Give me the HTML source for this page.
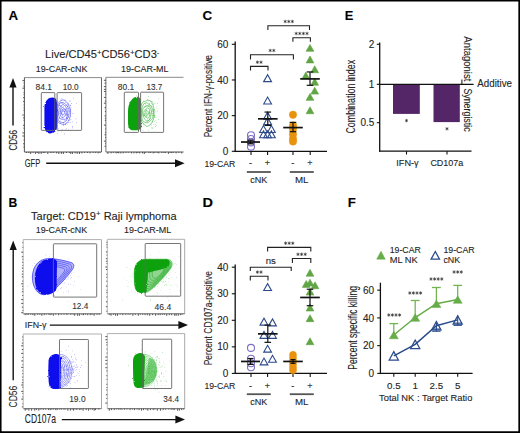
<!DOCTYPE html>
<html><head><meta charset="utf-8"><style>html,body{margin:0;padding:0;background:#fff;}svg{display:block;} text{stroke:#222;stroke-width:0.1px;}</style></head>
<body><svg width="520" height="433" viewBox="0 0 520 433" font-family="Liberation Sans, sans-serif">
<defs><filter id="rough" x="-20%" y="-20%" width="140%" height="140%"><feTurbulence type="fractalNoise" baseFrequency="0.8" numOctaves="2" seed="4"/><feDisplacementMap in="SourceGraphic" scale="2.2" xChannelSelector="R" yChannelSelector="G"/></filter></defs>
<rect x="0" y="0" width="520" height="433" fill="#fff"/>
<path d="M0.7,0 V433 M0,0.7 H520 M519.2,0 V433 M0,432.1 H520" stroke="#000" stroke-width="1.7" fill="none"/>
<text x="8.5" y="19.6" font-size="12.4" fill="#000" font-weight="bold" textLength="9.6" lengthAdjust="spacingAndGlyphs" >A</text>
<text x="8.5" y="207.2" font-size="12.4" fill="#000" font-weight="bold" textLength="8.8" lengthAdjust="spacingAndGlyphs" >B</text>
<text x="202.39999999999998" y="19.6" font-size="12.4" fill="#000" font-weight="bold" textLength="9.7" lengthAdjust="spacingAndGlyphs" >C</text>
<text x="202.39999999999998" y="207.3" font-size="12.4" fill="#000" font-weight="bold" textLength="10.5" lengthAdjust="spacingAndGlyphs" >D</text>
<text x="344.7" y="19.6" font-size="12.4" fill="#000" font-weight="bold" textLength="8.6" lengthAdjust="spacingAndGlyphs" >E</text>
<text x="347.7" y="207.3" font-size="12.4" fill="#000" font-weight="bold" textLength="8.1" lengthAdjust="spacingAndGlyphs" >F</text>
<line x1="235.2" y1="41.50200000000001" x2="235.2" y2="151.9" stroke="#111" stroke-width="1.3" />
<line x1="234.6" y1="151.3" x2="327" y2="151.3" stroke="#111" stroke-width="1.3" />
<line x1="231.8" y1="151.3" x2="235.2" y2="151.3" stroke="#111" stroke-width="1.1" />
<text x="228.4" y="154.9" font-size="10" fill="#222" text-anchor="end">0</text>
<line x1="231.8" y1="115.63400000000001" x2="235.2" y2="115.63400000000001" stroke="#111" stroke-width="1.1" />
<text x="228.4" y="119.23400000000001" font-size="10" fill="#222" text-anchor="end">20</text>
<line x1="231.8" y1="79.968" x2="235.2" y2="79.968" stroke="#111" stroke-width="1.1" />
<text x="228.4" y="83.568" font-size="10" fill="#222" text-anchor="end">40</text>
<line x1="231.8" y1="44.30200000000001" x2="235.2" y2="44.30200000000001" stroke="#111" stroke-width="1.1" />
<text x="228.4" y="47.90200000000001" font-size="10" fill="#222" text-anchor="end">60</text>
<line x1="251" y1="151.3" x2="251" y2="154.9" stroke="#111" stroke-width="1.1" />
<line x1="267.6" y1="151.3" x2="267.6" y2="154.9" stroke="#111" stroke-width="1.1" />
<line x1="293" y1="151.3" x2="293" y2="154.9" stroke="#111" stroke-width="1.1" />
<line x1="310.2" y1="151.3" x2="310.2" y2="154.9" stroke="#111" stroke-width="1.1" />
<text transform="translate(211.8,96.14999999999999) rotate(-90)" x="0" y="0" font-size="11.6" fill="#222" text-anchor="middle" textLength="82.1" lengthAdjust="spacingAndGlyphs">Percent IFN-&#947;-positive</text>
<text x="204.4" y="166.5" font-size="9.4" fill="#222" font-weight="normal" textLength="30.8" lengthAdjust="spacingAndGlyphs" >19-CAR</text>
<text x="250.5" y="166.4" font-size="9" fill="#333" text-anchor="middle" >-</text>
<text x="267.3" y="166.4" font-size="9" fill="#333" text-anchor="middle" >+</text>
<text x="292.8" y="166.4" font-size="9" fill="#333" text-anchor="middle" >-</text>
<text x="310" y="166.4" font-size="9" fill="#333" text-anchor="middle" >+</text>
<line x1="246.8" y1="172" x2="270.8" y2="172" stroke="#555" stroke-width="1.8" />
<line x1="289.8" y1="172" x2="313.8" y2="172" stroke="#555" stroke-width="1.8" />
<text x="250.2" y="183" font-size="9.4" fill="#222" font-weight="normal" textLength="17.1" lengthAdjust="spacingAndGlyphs" >cNK</text>
<text x="295" y="183" font-size="9.4" fill="#222" font-weight="normal" textLength="13.5" lengthAdjust="spacingAndGlyphs" >ML</text>
<circle cx="251" cy="135.2503" r="3.5" fill="none" stroke="#7d6fc2" stroke-width="1.1"/>
<circle cx="251" cy="138.99523000000002" r="3.5" fill="none" stroke="#7d6fc2" stroke-width="1.1"/>
<circle cx="251" cy="142.3835" r="3.5" fill="none" stroke="#7d6fc2" stroke-width="1.1"/>
<circle cx="251" cy="146.66342" r="3.5" fill="none" stroke="#7d6fc2" stroke-width="1.1"/>
<line x1="241.0" y1="142.02684000000002" x2="260.0" y2="142.02684000000002" stroke="#111" stroke-width="1.7" />
<line x1="250.5" y1="140.24354" x2="250.5" y2="143.81014000000002" stroke="#111" stroke-width="1.2" />
<line x1="247.5" y1="140.24354" x2="253.5" y2="140.24354" stroke="#111" stroke-width="1.2" />
<line x1="247.5" y1="143.81014000000002" x2="253.5" y2="143.81014000000002" stroke="#111" stroke-width="1.2" />
<path d="M263.70,81.63 L267.60,74.73 L271.50,81.63 Z" fill="none" stroke="#2d4a8a" stroke-width="1.1" stroke-linejoin="miter"/>
<path d="M263.70,103.93 L267.60,97.03 L271.50,103.93 Z" fill="none" stroke="#2d4a8a" stroke-width="1.1" stroke-linejoin="miter"/>
<path d="M263.70,119.08 L267.60,112.18 L271.50,119.08 Z" fill="none" stroke="#2d4a8a" stroke-width="1.1" stroke-linejoin="miter"/>
<path d="M263.70,124.43 L267.60,117.53 L271.50,124.43 Z" fill="none" stroke="#2d4a8a" stroke-width="1.1" stroke-linejoin="miter"/>
<path d="M259.60,132.46 L263.50,125.56 L267.40,132.46 Z" fill="none" stroke="#2d4a8a" stroke-width="1.1" stroke-linejoin="miter"/>
<path d="M267.50,132.46 L271.40,125.56 L275.30,132.46 Z" fill="none" stroke="#2d4a8a" stroke-width="1.1" stroke-linejoin="miter"/>
<path d="M259.60,137.81 L263.50,130.91 L267.40,137.81 Z" fill="none" stroke="#2d4a8a" stroke-width="1.1" stroke-linejoin="miter"/>
<path d="M267.50,137.81 L271.40,130.91 L275.30,137.81 Z" fill="none" stroke="#2d4a8a" stroke-width="1.1" stroke-linejoin="miter"/>
<path d="M263.70,137.81 L267.60,130.91 L271.50,137.81 Z" fill="none" stroke="#2d4a8a" stroke-width="1.1" stroke-linejoin="miter"/>
<line x1="258.0" y1="118.84394" x2="277.6" y2="118.84394" stroke="#111" stroke-width="1.7" />
<line x1="267.8" y1="112.0674" x2="267.8" y2="125.44215000000001" stroke="#111" stroke-width="1.2" />
<line x1="264.5" y1="112.0674" x2="271.1" y2="112.0674" stroke="#111" stroke-width="1.2" />
<line x1="264.5" y1="125.44215000000001" x2="271.1" y2="125.44215000000001" stroke="#111" stroke-width="1.2" />
<circle cx="293" cy="114.74235000000002" r="3.7" fill="#e8920e" stroke="#e8920e" stroke-width="0.5"/>
<circle cx="293" cy="125.44215000000001" r="3.7" fill="#e8920e" stroke="#e8920e" stroke-width="0.5"/>
<circle cx="293" cy="129.00875000000002" r="3.7" fill="#e8920e" stroke="#e8920e" stroke-width="0.5"/>
<circle cx="293" cy="134.35865" r="3.7" fill="#e8920e" stroke="#e8920e" stroke-width="0.5"/>
<circle cx="293" cy="138.8169" r="3.7" fill="#e8920e" stroke="#e8920e" stroke-width="0.5"/>
<circle cx="293" cy="141.49185" r="3.7" fill="#e8920e" stroke="#e8920e" stroke-width="0.5"/>
<line x1="283.2" y1="127.58211" x2="302.8" y2="127.58211" stroke="#111" stroke-width="1.7" />
<line x1="293" y1="122.41054000000001" x2="293" y2="131.68370000000002" stroke="#111" stroke-width="1.2" />
<line x1="289.7" y1="122.41054000000001" x2="296.3" y2="122.41054000000001" stroke="#111" stroke-width="1.2" />
<line x1="289.7" y1="131.68370000000002" x2="296.3" y2="131.68370000000002" stroke="#111" stroke-width="1.2" />
<path d="M306.10,51.32 L310.00,44.42 L313.90,51.32 Z" fill="#62a544" stroke="#62a544" stroke-width="0.6" stroke-linejoin="miter"/>
<path d="M306.10,62.91 L310.00,56.01 L313.90,62.91 Z" fill="#62a544" stroke="#62a544" stroke-width="0.6" stroke-linejoin="miter"/>
<path d="M310.80,72.72 L314.70,65.82 L318.60,72.72 Z" fill="#62a544" stroke="#62a544" stroke-width="0.6" stroke-linejoin="miter"/>
<path d="M301.90,78.96 L305.80,72.06 L309.70,78.96 Z" fill="#62a544" stroke="#62a544" stroke-width="0.6" stroke-linejoin="miter"/>
<path d="M310.80,85.20 L314.70,78.30 L318.60,85.20 Z" fill="#62a544" stroke="#62a544" stroke-width="0.6" stroke-linejoin="miter"/>
<path d="M310.80,94.12 L314.70,87.22 L318.60,94.12 Z" fill="#62a544" stroke="#62a544" stroke-width="0.6" stroke-linejoin="miter"/>
<path d="M306.10,100.36 L310.00,93.46 L313.90,100.36 Z" fill="#62a544" stroke="#62a544" stroke-width="0.6" stroke-linejoin="miter"/>
<path d="M306.10,113.73 L310.00,106.83 L313.90,113.73 Z" fill="#62a544" stroke="#62a544" stroke-width="0.6" stroke-linejoin="miter"/>
<line x1="300.2" y1="78.89802" x2="319.8" y2="78.89802" stroke="#111" stroke-width="1.7" />
<line x1="310" y1="71.94315" x2="310" y2="85.31790000000001" stroke="#111" stroke-width="1.2" />
<line x1="306.7" y1="71.94315" x2="313.3" y2="71.94315" stroke="#111" stroke-width="1.2" />
<line x1="306.7" y1="85.31790000000001" x2="313.3" y2="85.31790000000001" stroke="#111" stroke-width="1.2" />
<path d="M250.5,70.60000000000001 V66.4 H268 V70.60000000000001" stroke="#222" stroke-width="1.1" fill="none" />
<path d="M257.40,60.50 L257.40,63.90 M258.87,61.35 L255.93,63.05 M258.87,63.05 L255.93,61.35 " stroke="#222" stroke-width="0.65" fill="none"/>
<path d="M261.00,60.50 L261.00,63.90 M262.47,61.35 L259.53,63.05 M262.47,63.05 L259.53,61.35 " stroke="#222" stroke-width="0.65" fill="none"/>
<path d="M250.5,59.5 V54.7 H293.4 V59.5" stroke="#222" stroke-width="1.1" fill="none" />
<path d="M270.20,48.80 L270.20,52.20 M271.67,49.65 L268.73,51.35 M271.67,51.35 L268.73,49.65 " stroke="#222" stroke-width="0.65" fill="none"/>
<path d="M273.80,48.80 L273.80,52.20 M275.27,49.65 L272.33,51.35 M275.27,51.35 L272.33,49.65 " stroke="#222" stroke-width="0.65" fill="none"/>
<path d="M292.9,41.800000000000004 V37.7 H310.4 V41.800000000000004" stroke="#222" stroke-width="1.1" fill="none" />
<path d="M296.20,31.80 L296.20,35.20 M297.67,32.65 L294.73,34.35 M297.67,34.35 L294.73,32.65 " stroke="#222" stroke-width="0.65" fill="none"/>
<path d="M299.80,31.80 L299.80,35.20 M301.27,32.65 L298.33,34.35 M301.27,34.35 L298.33,32.65 " stroke="#222" stroke-width="0.65" fill="none"/>
<path d="M303.40,31.80 L303.40,35.20 M304.87,32.65 L301.93,34.35 M304.87,34.35 L301.93,32.65 " stroke="#222" stroke-width="0.65" fill="none"/>
<path d="M307.00,31.80 L307.00,35.20 M308.47,32.65 L305.53,34.35 M308.47,34.35 L305.53,32.65 " stroke="#222" stroke-width="0.65" fill="none"/>
<path d="M267.9,30.0 V25.7 H309.5 V30.0" stroke="#222" stroke-width="1.1" fill="none" />
<path d="M285.20,19.80 L285.20,23.20 M286.67,20.65 L283.73,22.35 M286.67,22.35 L283.73,20.65 " stroke="#222" stroke-width="0.65" fill="none"/>
<path d="M288.80,19.80 L288.80,23.20 M290.27,20.65 L287.33,22.35 M290.27,22.35 L287.33,20.65 " stroke="#222" stroke-width="0.65" fill="none"/>
<path d="M292.40,19.80 L292.40,23.20 M293.87,20.65 L290.93,22.35 M293.87,22.35 L290.93,20.65 " stroke="#222" stroke-width="0.65" fill="none"/>
<line x1="235.2" y1="264.4" x2="235.2" y2="374.0" stroke="#111" stroke-width="1.3" />
<line x1="234.6" y1="373.4" x2="327" y2="373.4" stroke="#111" stroke-width="1.3" />
<line x1="231.8" y1="373.4" x2="235.2" y2="373.4" stroke="#111" stroke-width="1.1" />
<text x="228.4" y="377.0" font-size="10" fill="#222" text-anchor="end">0</text>
<line x1="231.8" y1="346.84999999999997" x2="235.2" y2="346.84999999999997" stroke="#111" stroke-width="1.1" />
<text x="228.4" y="350.45" font-size="10" fill="#222" text-anchor="end">10</text>
<line x1="231.8" y1="320.29999999999995" x2="235.2" y2="320.29999999999995" stroke="#111" stroke-width="1.1" />
<text x="228.4" y="323.9" font-size="10" fill="#222" text-anchor="end">20</text>
<line x1="231.8" y1="293.75" x2="235.2" y2="293.75" stroke="#111" stroke-width="1.1" />
<text x="228.4" y="297.35" font-size="10" fill="#222" text-anchor="end">30</text>
<line x1="231.8" y1="267.2" x2="235.2" y2="267.2" stroke="#111" stroke-width="1.1" />
<text x="228.4" y="270.8" font-size="10" fill="#222" text-anchor="end">40</text>
<line x1="251" y1="373.4" x2="251" y2="377.0" stroke="#111" stroke-width="1.1" />
<line x1="267.6" y1="373.4" x2="267.6" y2="377.0" stroke="#111" stroke-width="1.1" />
<line x1="293" y1="373.4" x2="293" y2="377.0" stroke="#111" stroke-width="1.1" />
<line x1="310.2" y1="373.4" x2="310.2" y2="377.0" stroke="#111" stroke-width="1.1" />
<text transform="translate(211.8,318.20000000000005) rotate(-90)" x="0" y="0" font-size="11.6" fill="#222" text-anchor="middle" textLength="94.2" lengthAdjust="spacingAndGlyphs">Percent CD107a-positive</text>
<text x="204.4" y="388.7" font-size="9.4" fill="#222" font-weight="normal" textLength="30.8" lengthAdjust="spacingAndGlyphs" >19-CAR</text>
<text x="250.5" y="388.6" font-size="9" fill="#333" text-anchor="middle" >-</text>
<text x="267.3" y="388.6" font-size="9" fill="#333" text-anchor="middle" >+</text>
<text x="292.8" y="388.6" font-size="9" fill="#333" text-anchor="middle" >-</text>
<text x="310" y="388.6" font-size="9" fill="#333" text-anchor="middle" >+</text>
<line x1="246.8" y1="394.2" x2="270.8" y2="394.2" stroke="#555" stroke-width="1.8" />
<line x1="289.8" y1="394.2" x2="313.8" y2="394.2" stroke="#555" stroke-width="1.8" />
<text x="250.2" y="405.2" font-size="9.4" fill="#222" font-weight="normal" textLength="17.1" lengthAdjust="spacingAndGlyphs" >cNK</text>
<text x="295" y="405.2" font-size="9.4" fill="#222" font-weight="normal" textLength="13.5" lengthAdjust="spacingAndGlyphs" >ML</text>
<circle cx="251" cy="347.912" r="3.5" fill="none" stroke="#7d6fc2" stroke-width="1.1"/>
<circle cx="251" cy="358.79749999999996" r="3.5" fill="none" stroke="#7d6fc2" stroke-width="1.1"/>
<circle cx="251" cy="363.311" r="3.5" fill="none" stroke="#7d6fc2" stroke-width="1.1"/>
<circle cx="251" cy="367.2935" r="3.5" fill="none" stroke="#7d6fc2" stroke-width="1.1"/>
<line x1="241.0" y1="361.4525" x2="260.0" y2="361.4525" stroke="#111" stroke-width="1.7" />
<line x1="250.5" y1="358.532" x2="250.5" y2="364.373" stroke="#111" stroke-width="1.2" />
<line x1="247.5" y1="358.532" x2="253.5" y2="358.532" stroke="#111" stroke-width="1.2" />
<line x1="247.5" y1="364.373" x2="253.5" y2="364.373" stroke="#111" stroke-width="1.2" />
<path d="M263.70,290.56 L267.60,283.66 L271.50,290.56 Z" fill="none" stroke="#2d4a8a" stroke-width="1.1" stroke-linejoin="miter"/>
<path d="M260.10,325.08 L264.00,318.18 L267.90,325.08 Z" fill="none" stroke="#2d4a8a" stroke-width="1.1" stroke-linejoin="miter"/>
<path d="M268.60,325.87 L272.50,318.97 L276.40,325.87 Z" fill="none" stroke="#2d4a8a" stroke-width="1.1" stroke-linejoin="miter"/>
<path d="M260.10,338.35 L264.00,331.45 L267.90,338.35 Z" fill="none" stroke="#2d4a8a" stroke-width="1.1" stroke-linejoin="miter"/>
<path d="M268.60,338.35 L272.50,331.45 L276.40,338.35 Z" fill="none" stroke="#2d4a8a" stroke-width="1.1" stroke-linejoin="miter"/>
<path d="M263.70,352.16 L267.60,345.26 L271.50,352.16 Z" fill="none" stroke="#2d4a8a" stroke-width="1.1" stroke-linejoin="miter"/>
<path d="M268.60,362.25 L272.50,355.35 L276.40,362.25 Z" fill="none" stroke="#2d4a8a" stroke-width="1.1" stroke-linejoin="miter"/>
<path d="M260.10,364.90 L264.00,358.00 L267.90,364.90 Z" fill="none" stroke="#2d4a8a" stroke-width="1.1" stroke-linejoin="miter"/>
<line x1="258.0" y1="333.84049999999996" x2="277.6" y2="333.84049999999996" stroke="#111" stroke-width="1.7" />
<line x1="267.8" y1="325.07899999999995" x2="267.8" y2="342.3365" stroke="#111" stroke-width="1.2" />
<line x1="264.5" y1="325.07899999999995" x2="271.1" y2="325.07899999999995" stroke="#111" stroke-width="1.2" />
<line x1="264.5" y1="342.3365" x2="271.1" y2="342.3365" stroke="#111" stroke-width="1.2" />
<circle cx="293" cy="354.815" r="3.5" fill="#e8920e" stroke="#e8920e" stroke-width="0.5"/>
<circle cx="293" cy="358.001" r="3.5" fill="#e8920e" stroke="#e8920e" stroke-width="0.5"/>
<circle cx="293" cy="361.18699999999995" r="3.5" fill="#e8920e" stroke="#e8920e" stroke-width="0.5"/>
<circle cx="293" cy="364.373" r="3.5" fill="#e8920e" stroke="#e8920e" stroke-width="0.5"/>
<circle cx="293" cy="367.55899999999997" r="3.5" fill="#e8920e" stroke="#e8920e" stroke-width="0.5"/>
<circle cx="293" cy="370.214" r="3.5" fill="#e8920e" stroke="#e8920e" stroke-width="0.5"/>
<line x1="283.2" y1="361.4525" x2="302.8" y2="361.4525" stroke="#111" stroke-width="1.7" />
<line x1="293" y1="359.594" x2="293" y2="363.311" stroke="#111" stroke-width="1.2" />
<line x1="290.5" y1="359.594" x2="295.5" y2="359.594" stroke="#111" stroke-width="1.2" />
<line x1="290.5" y1="363.311" x2="295.5" y2="363.311" stroke="#111" stroke-width="1.2" />
<path d="M306.10,276.23 L310.00,269.33 L313.90,276.23 Z" fill="#62a544" stroke="#62a544" stroke-width="0.6" stroke-linejoin="miter"/>
<path d="M302.30,287.38 L306.20,280.48 L310.10,287.38 Z" fill="#62a544" stroke="#62a544" stroke-width="0.6" stroke-linejoin="miter"/>
<path d="M306.10,286.05 L310.00,279.15 L313.90,286.05 Z" fill="#62a544" stroke="#62a544" stroke-width="0.6" stroke-linejoin="miter"/>
<path d="M311.10,288.70 L315.00,281.80 L318.90,288.70 Z" fill="#62a544" stroke="#62a544" stroke-width="0.6" stroke-linejoin="miter"/>
<path d="M306.10,295.08 L310.00,288.18 L313.90,295.08 Z" fill="#62a544" stroke="#62a544" stroke-width="0.6" stroke-linejoin="miter"/>
<path d="M306.10,311.01 L310.00,304.11 L313.90,311.01 Z" fill="#62a544" stroke="#62a544" stroke-width="0.6" stroke-linejoin="miter"/>
<path d="M306.10,321.63 L310.00,314.73 L313.90,321.63 Z" fill="#62a544" stroke="#62a544" stroke-width="0.6" stroke-linejoin="miter"/>
<path d="M306.10,344.72 L310.00,337.82 L313.90,344.72 Z" fill="#62a544" stroke="#62a544" stroke-width="0.6" stroke-linejoin="miter"/>
<line x1="300.2" y1="297.467" x2="319.8" y2="297.467" stroke="#111" stroke-width="1.7" />
<line x1="310" y1="289.2365" x2="310" y2="305.6975" stroke="#111" stroke-width="1.2" />
<line x1="306.7" y1="289.2365" x2="313.3" y2="289.2365" stroke="#111" stroke-width="1.2" />
<line x1="306.7" y1="305.6975" x2="313.3" y2="305.6975" stroke="#111" stroke-width="1.2" />
<path d="M250.3,280.40000000000003 V276.3 H268 V280.40000000000003" stroke="#222" stroke-width="1.1" fill="none" />
<path d="M257.40,270.40 L257.40,273.80 M258.87,271.25 L255.93,272.95 M258.87,272.95 L255.93,271.25 " stroke="#222" stroke-width="0.65" fill="none"/>
<path d="M261.00,270.40 L261.00,273.80 M262.47,271.25 L259.53,272.95 M262.47,272.95 L259.53,271.25 " stroke="#222" stroke-width="0.65" fill="none"/>
<path d="M250.3,271.0 V267.2 H291.2 V271.0" stroke="#222" stroke-width="1.1" fill="none" />
<text x="270.8" y="264.2" font-size="9.6" fill="#222" text-anchor="middle" >ns</text>
<path d="M292.4,263.0 V258.5 H310.8 V263.0" stroke="#222" stroke-width="1.1" fill="none" />
<path d="M298.00,252.60 L298.00,256.00 M299.47,253.45 L296.53,255.15 M299.47,255.15 L296.53,253.45 " stroke="#222" stroke-width="0.65" fill="none"/>
<path d="M301.60,252.60 L301.60,256.00 M303.07,253.45 L300.13,255.15 M303.07,255.15 L300.13,253.45 " stroke="#222" stroke-width="0.65" fill="none"/>
<path d="M305.20,252.60 L305.20,256.00 M306.67,253.45 L303.73,255.15 M306.67,255.15 L303.73,253.45 " stroke="#222" stroke-width="0.65" fill="none"/>
<path d="M267.6,251.5 V247.4 H310.8 V251.5" stroke="#222" stroke-width="1.1" fill="none" />
<path d="M285.60,241.50 L285.60,244.90 M287.07,242.35 L284.13,244.05 M287.07,244.05 L284.13,242.35 " stroke="#222" stroke-width="0.65" fill="none"/>
<path d="M289.20,241.50 L289.20,244.90 M290.67,242.35 L287.73,244.05 M290.67,244.05 L287.73,242.35 " stroke="#222" stroke-width="0.65" fill="none"/>
<path d="M292.80,241.50 L292.80,244.90 M294.27,242.35 L291.33,244.05 M294.27,244.05 L291.33,242.35 " stroke="#222" stroke-width="0.65" fill="none"/>
<rect x="393" y="84.3" width="26.8" height="29.6" fill="#542567"/>
<rect x="433.5" y="84.3" width="26.3" height="37.8" fill="#542567"/>
<line x1="379.7" y1="42.5" x2="379.7" y2="151.8" stroke="#111" stroke-width="1.3" />
<line x1="379.1" y1="151.2" x2="471.5" y2="151.2" stroke="#111" stroke-width="1.3" />
<line x1="379.7" y1="84.3" x2="473.6" y2="84.3" stroke="#111" stroke-width="1.3" />
<line x1="461.9" y1="79.5" x2="461.9" y2="84.3" stroke="#111" stroke-width="1" />
<line x1="376.8" y1="44.3" x2="379.7" y2="44.3" stroke="#111" stroke-width="1.1" />
<text x="374.3" y="47.9" font-size="10" fill="#222" text-anchor="end">2</text>
<line x1="376.8" y1="84.3" x2="379.7" y2="84.3" stroke="#111" stroke-width="1.1" />
<text x="374.3" y="87.89999999999999" font-size="10" fill="#222" text-anchor="end">1</text>
<line x1="376.8" y1="122.7" x2="379.7" y2="122.7" stroke="#111" stroke-width="1.1" />
<text x="374.3" y="126.3" font-size="10" fill="#222" text-anchor="end">0.5</text>
<line x1="406.5" y1="151.2" x2="406.5" y2="154.5" stroke="#111" stroke-width="1.1" />
<line x1="447" y1="151.2" x2="447" y2="154.5" stroke="#111" stroke-width="1.1" />
<path d="M406.50,118.90 L406.50,122.30 M407.97,119.75 L405.03,121.45 M407.97,121.45 L405.03,119.75 " stroke="#222" stroke-width="0.65" fill="none"/>
<path d="M447.00,127.10 L447.00,130.50 M448.47,127.95 L445.53,129.65 M448.47,129.65 L445.53,127.95 " stroke="#222" stroke-width="0.65" fill="none"/>
<text x="396.3" y="166.3" font-size="9.4" fill="#222" font-weight="normal" textLength="22.4" lengthAdjust="spacingAndGlyphs" >IFN-&#947;</text>
<text x="430.4" y="166.3" font-size="9.4" fill="#222" font-weight="normal" textLength="32.9" lengthAdjust="spacingAndGlyphs" >CD107a</text>
<text transform="translate(354.6,96.75) rotate(-90)" x="0" y="0" font-size="12" fill="#222" text-anchor="middle" textLength="73.7" lengthAdjust="spacingAndGlyphs">Combination index</text>
<text transform="translate(464.3,58.85) rotate(90)" x="0" y="0" font-size="10.8" fill="#222" text-anchor="middle" textLength="45.1" lengthAdjust="spacingAndGlyphs">Antagonist</text>
<text transform="translate(464.3,110.0) rotate(90)" x="0" y="0" font-size="10.8" fill="#222" text-anchor="middle" textLength="43.2" lengthAdjust="spacingAndGlyphs">Synergistic</text>
<text x="477.3" y="87.3" font-size="10.4" fill="#222" font-weight="normal" textLength="34.7" lengthAdjust="spacingAndGlyphs" >Additive</text>
<line x1="380.4" y1="282.7" x2="380.4" y2="373.9" stroke="#111" stroke-width="1.3" />
<line x1="379.8" y1="373.3" x2="472.6" y2="373.3" stroke="#111" stroke-width="1.3" />
<line x1="377.2" y1="373.4" x2="380.4" y2="373.4" stroke="#111" stroke-width="1.1" />
<text x="374" y="377.0" font-size="10" fill="#222" text-anchor="end">0</text>
<line x1="377.2" y1="345.65" x2="380.4" y2="345.65" stroke="#111" stroke-width="1.1" />
<text x="374" y="349.25" font-size="10" fill="#222" text-anchor="end">20</text>
<line x1="377.2" y1="317.9" x2="380.4" y2="317.9" stroke="#111" stroke-width="1.1" />
<text x="374" y="321.5" font-size="10" fill="#222" text-anchor="end">40</text>
<line x1="377.2" y1="290.15" x2="380.4" y2="290.15" stroke="#111" stroke-width="1.1" />
<text x="374" y="293.75" font-size="10" fill="#222" text-anchor="end">60</text>
<line x1="393.8" y1="373.3" x2="393.8" y2="376.8" stroke="#111" stroke-width="1.1" />
<text x="393.8" y="389" font-size="9.8" fill="#222" text-anchor="middle" >0.5</text>
<line x1="415.2" y1="373.3" x2="415.2" y2="376.8" stroke="#111" stroke-width="1.1" />
<text x="415.2" y="389" font-size="9.8" fill="#222" text-anchor="middle" >1</text>
<line x1="436.4" y1="373.3" x2="436.4" y2="376.8" stroke="#111" stroke-width="1.1" />
<text x="436.4" y="389" font-size="9.8" fill="#222" text-anchor="middle" >2.5</text>
<line x1="457.7" y1="373.3" x2="457.7" y2="376.8" stroke="#111" stroke-width="1.1" />
<text x="457.7" y="389" font-size="9.8" fill="#222" text-anchor="middle" >5</text>
<text x="379" y="401" font-size="9.8" fill="#222" font-weight="normal" textLength="93.4" lengthAdjust="spacingAndGlyphs" >Total NK : Target Ratio</text>
<text transform="translate(356.6,327.85) rotate(-90)" x="0" y="0" font-size="12" fill="#222" text-anchor="middle" textLength="83.9" lengthAdjust="spacingAndGlyphs">Percent specific killing</text>
<line x1="393.8" y1="335.0" x2="393.8" y2="323.6" stroke="#72b450" stroke-width="1.25" />
<line x1="389.40000000000003" y1="323.6" x2="398.2" y2="323.6" stroke="#72b450" stroke-width="1.3" />
<line x1="415.2" y1="317.5" x2="415.2" y2="300.5" stroke="#72b450" stroke-width="1.25" />
<line x1="410.8" y1="300.5" x2="419.59999999999997" y2="300.5" stroke="#72b450" stroke-width="1.3" />
<line x1="436.4" y1="303.7" x2="436.4" y2="287.5" stroke="#72b450" stroke-width="1.25" />
<line x1="432.0" y1="287.5" x2="440.79999999999995" y2="287.5" stroke="#72b450" stroke-width="1.3" />
<line x1="457.7" y1="299.5" x2="457.7" y2="285.4" stroke="#72b450" stroke-width="1.25" />
<line x1="453.3" y1="285.4" x2="462.09999999999997" y2="285.4" stroke="#72b450" stroke-width="1.3" />
<path d="M393.8,335.0 L415.2,317.5 L436.4,303.7 L457.7,299.5" stroke="#66ad48" stroke-width="1.5" fill="none" />
<path d="M389.30,338.80 L393.80,331.20 L398.30,338.80 Z" fill="#66ad48" stroke="#66ad48" stroke-width="0.5" stroke-linejoin="miter"/>
<path d="M410.70,321.30 L415.20,313.70 L419.70,321.30 Z" fill="#66ad48" stroke="#66ad48" stroke-width="0.5" stroke-linejoin="miter"/>
<path d="M431.90,307.50 L436.40,299.90 L440.90,307.50 Z" fill="#66ad48" stroke="#66ad48" stroke-width="0.5" stroke-linejoin="miter"/>
<path d="M453.20,303.30 L457.70,295.70 L462.20,303.30 Z" fill="#66ad48" stroke="#66ad48" stroke-width="0.5" stroke-linejoin="miter"/>
<line x1="436.4" y1="321.5" x2="436.4" y2="331.2" stroke="#2b4b8c" stroke-width="1.1" />
<line x1="432.2" y1="331.2" x2="440.59999999999997" y2="331.2" stroke="#2b4b8c" stroke-width="1.2" />
<line x1="432.2" y1="329.0" x2="440.59999999999997" y2="329.0" stroke="#2b4b8c" stroke-width="1.0" />
<line x1="457.7" y1="315.5" x2="457.7" y2="325.3" stroke="#2b4b8c" stroke-width="1.1" />
<line x1="453.5" y1="325.3" x2="461.9" y2="325.3" stroke="#2b4b8c" stroke-width="1.2" />
<line x1="453.5" y1="323.1" x2="461.9" y2="323.1" stroke="#2b4b8c" stroke-width="1.0" />
<path d="M393.8,355.8 L415.2,344.3 L436.4,325.7 L457.7,319.9" stroke="#2b4b8c" stroke-width="1.5" fill="none" />
<path d="M389.20,360.00 L393.80,351.60 L398.40,360.00 Z" fill="none" stroke="#2b4b8c" stroke-width="1.25" stroke-linejoin="miter"/>
<path d="M410.60,348.50 L415.20,340.10 L419.80,348.50 Z" fill="none" stroke="#2b4b8c" stroke-width="1.25" stroke-linejoin="miter"/>
<path d="M431.80,329.90 L436.40,321.50 L441.00,329.90 Z" fill="none" stroke="#2b4b8c" stroke-width="1.25" stroke-linejoin="miter"/>
<path d="M453.10,324.10 L457.70,315.70 L462.30,324.10 Z" fill="none" stroke="#2b4b8c" stroke-width="1.25" stroke-linejoin="miter"/>
<path d="M388.80,313.30 L388.80,316.70 M390.27,314.15 L387.33,315.85 M390.27,315.85 L387.33,314.15 " stroke="#222" stroke-width="0.65" fill="none"/>
<path d="M392.40,313.30 L392.40,316.70 M393.87,314.15 L390.93,315.85 M393.87,315.85 L390.93,314.15 " stroke="#222" stroke-width="0.65" fill="none"/>
<path d="M396.00,313.30 L396.00,316.70 M397.47,314.15 L394.53,315.85 M397.47,315.85 L394.53,314.15 " stroke="#222" stroke-width="0.65" fill="none"/>
<path d="M399.60,313.30 L399.60,316.70 M401.07,314.15 L398.13,315.85 M401.07,315.85 L398.13,314.15 " stroke="#222" stroke-width="0.65" fill="none"/>
<path d="M409.80,291.30 L409.80,294.70 M411.27,292.15 L408.33,293.85 M411.27,293.85 L408.33,292.15 " stroke="#222" stroke-width="0.65" fill="none"/>
<path d="M413.40,291.30 L413.40,294.70 M414.87,292.15 L411.93,293.85 M414.87,293.85 L411.93,292.15 " stroke="#222" stroke-width="0.65" fill="none"/>
<path d="M417.00,291.30 L417.00,294.70 M418.47,292.15 L415.53,293.85 M418.47,293.85 L415.53,292.15 " stroke="#222" stroke-width="0.65" fill="none"/>
<path d="M420.60,291.30 L420.60,294.70 M422.07,292.15 L419.13,293.85 M422.07,293.85 L419.13,292.15 " stroke="#222" stroke-width="0.65" fill="none"/>
<path d="M431.00,277.30 L431.00,280.70 M432.47,278.15 L429.53,279.85 M432.47,279.85 L429.53,278.15 " stroke="#222" stroke-width="0.65" fill="none"/>
<path d="M434.60,277.30 L434.60,280.70 M436.07,278.15 L433.13,279.85 M436.07,279.85 L433.13,278.15 " stroke="#222" stroke-width="0.65" fill="none"/>
<path d="M438.20,277.30 L438.20,280.70 M439.67,278.15 L436.73,279.85 M439.67,279.85 L436.73,278.15 " stroke="#222" stroke-width="0.65" fill="none"/>
<path d="M441.80,277.30 L441.80,280.70 M443.27,278.15 L440.33,279.85 M443.27,279.85 L440.33,278.15 " stroke="#222" stroke-width="0.65" fill="none"/>
<path d="M454.10,270.30 L454.10,273.70 M455.57,271.15 L452.63,272.85 M455.57,272.85 L452.63,271.15 " stroke="#222" stroke-width="0.65" fill="none"/>
<path d="M457.70,270.30 L457.70,273.70 M459.17,271.15 L456.23,272.85 M459.17,272.85 L456.23,271.15 " stroke="#222" stroke-width="0.65" fill="none"/>
<path d="M461.30,270.30 L461.30,273.70 M462.77,271.15 L459.83,272.85 M462.77,272.85 L459.83,271.15 " stroke="#222" stroke-width="0.65" fill="none"/>
<path d="M376.70,259.20 L381.00,251.20 L385.30,259.20 Z" fill="#66ad48" stroke="#66ad48" stroke-width="0.5" stroke-linejoin="miter"/>
<text x="389.7" y="252.6" font-size="9.4" fill="#222" font-weight="normal" textLength="31.1" lengthAdjust="spacingAndGlyphs" >19-CAR</text>
<text x="389.7" y="263.3" font-size="9.4" fill="#222" font-weight="normal" textLength="28.1" lengthAdjust="spacingAndGlyphs" >ML NK</text>
<path d="M431.10,259.10 L435.30,251.50 L439.50,259.10 Z" fill="#fff" stroke="#2b4b8c" stroke-width="1.25" stroke-linejoin="miter"/>
<text x="443.4" y="252.6" font-size="9.4" fill="#222" font-weight="normal" textLength="31.3" lengthAdjust="spacingAndGlyphs" >19-CAR</text>
<text x="443.4" y="263.4" font-size="9.4" fill="#222" font-weight="normal" textLength="16.8" lengthAdjust="spacingAndGlyphs" >cNK</text>
<text x="45" y="58.2" font-size="11.2" fill="#222" textLength="114.5" lengthAdjust="spacingAndGlyphs">Live/CD45<tspan dy="-3.6" font-size="8">+</tspan><tspan dy="3.6">CD56</tspan><tspan dy="-3.6" font-size="8">+</tspan><tspan dy="3.6">CD3</tspan><tspan dy="-3.6" font-size="8">-</tspan></text>
<text x="35.8" y="71.9" font-size="9.2" fill="#222" font-weight="normal" textLength="51.6" lengthAdjust="spacingAndGlyphs" >19-CAR-cNK</text>
<text x="121" y="71.7" font-size="9.2" fill="#222" font-weight="normal" textLength="47.6" lengthAdjust="spacingAndGlyphs" >19-CAR-ML</text>
<line x1="24.4" y1="77.6" x2="101.5" y2="77.6" stroke="#8a8a8a" stroke-width="1.0" />
<line x1="101.5" y1="77.6" x2="101.5" y2="152" stroke="#666" stroke-width="1.0" />
<line x1="24.4" y1="152" x2="101.5" y2="152" stroke="#555" stroke-width="1.0" />
<line x1="24.4" y1="77.6" x2="24.4" y2="152" stroke="#555" stroke-width="1.0" />
<path d="M26.4,152 v1.0M28.8,152 v1.0M30.7,152 v2.0M33.2,152 v0.8M35.6,152 v2.0M37.3,152 v1.0M38.9,152 v2.0M41.2,152 v2.0M43.2,152 v1.0M44.8,152 v1.0M47.8,152 v2.0M50.4,152 v0.8M52.0,152 v0.8M53.8,152 v0.8M56.6,152 v1.4M58.8,152 v2.0M61.4,152 v2.0M63.4,152 v2.0M66.5,152 v1.0M69.5,152 v0.8M70.7,152 v2.0M72.4,152 v2.0M75.1,152 v1.4M77.2,152 v2.0M79.5,152 v2.0M81.9,152 v1.4M84.5,152 v0.8M87.4,152 v1.0M90.0,152 v1.4M93.1,152 v0.8M95.7,152 v1.0M98.2,152 v1.4M100.0,152 v0.8M24.4,80.6 h-2.0M24.4,82.9 h-0.8M24.4,86.1 h-1.0M24.4,88.2 h-2.0M24.4,92.5 h-0.8M24.4,94.6 h-0.8M24.4,97.7 h-1.4M24.4,101.4 h-1.4M24.4,104.9 h-0.8M24.4,107.8 h-0.8M24.4,110.2 h-0.8M24.4,115.0 h-2.0M24.4,117.9 h-1.4M24.4,120.3 h-0.8M24.4,125.3 h-1.4M24.4,128.2 h-1.0M24.4,132.9 h-2.0M24.4,136.0 h-2.0M24.4,140.0 h-0.8M24.4,143.8 h-1.4M24.4,147.1 h-1.0" stroke="#333" stroke-width="0.8" fill="none"/>
<line x1="105.9" y1="77.3" x2="183.5" y2="77.3" stroke="#8a8a8a" stroke-width="1.0" />
<line x1="105.9" y1="152" x2="183.5" y2="152" stroke="#555" stroke-width="1.0" />
<line x1="105.9" y1="77.3" x2="105.9" y2="152" stroke="#777" stroke-width="1.0" />
<path d="M107.9,152 v2.0M111.1,152 v1.4M113.4,152 v0.8M116.1,152 v1.4M117.4,152 v1.0M118.7,152 v1.4M120.8,152 v1.4M123.2,152 v1.4M125.9,152 v0.8M128.3,152 v0.8M131.4,152 v1.4M133.9,152 v1.4M136.3,152 v1.4M137.8,152 v1.0M139.6,152 v1.4M142.5,152 v1.4M144.3,152 v2.0M145.7,152 v0.8M148.9,152 v1.0M150.7,152 v1.0M153.2,152 v1.4M154.9,152 v1.0M157.4,152 v0.8M158.8,152 v1.4M161.9,152 v1.0M164.0,152 v1.0M165.4,152 v1.0M168.4,152 v2.0M170.1,152 v0.8M171.4,152 v1.0M173.2,152 v1.0M176.1,152 v1.4M178.9,152 v0.8M181.7,152 v1.4M105.9,80.3 h-2.0M105.9,83.2 h-1.4M105.9,86.6 h-2.0M105.9,89.4 h-2.0M105.9,91.5 h-2.0M105.9,94.0 h-0.8M105.9,97.4 h-2.0M105.9,101.1 h-1.0M105.9,103.2 h-2.0M105.9,107.7 h-1.4M105.9,111.4 h-1.0M105.9,115.9 h-1.4M105.9,118.3 h-1.0M105.9,120.4 h-1.0M105.9,125.1 h-2.0M105.9,128.9 h-0.8M105.9,132.3 h-0.8M105.9,134.8 h-1.4M105.9,137.5 h-0.8M105.9,141.1 h-2.0M105.9,143.3 h-0.8M105.9,146.3 h-1.4" stroke="#333" stroke-width="0.8" fill="none"/>
<text x="35.6" y="89.9" font-size="9.0" fill="#333" font-weight="normal" textLength="16.5" lengthAdjust="spacingAndGlyphs" >84.1</text>
<text x="62.7" y="89.9" font-size="9.0" fill="#333" font-weight="normal" textLength="15.9" lengthAdjust="spacingAndGlyphs" >10.0</text>
<text x="117.8" y="89.9" font-size="9.0" fill="#333" font-weight="normal" textLength="16.4" lengthAdjust="spacingAndGlyphs" >80.1</text>
<text x="146.4" y="89.9" font-size="9.0" fill="#333" font-weight="normal" textLength="15.8" lengthAdjust="spacingAndGlyphs" >13.7</text>
<path d="M52.4,108.8h0.6v0.6h-0.6zM66.9,115.4h0.6v0.6h-0.6zM72.0,126.1h0.6v0.6h-0.6zM66.3,117.5h0.6v0.6h-0.6zM61.1,131.7h0.6v0.6h-0.6zM72.3,127.6h0.6v0.6h-0.6zM55.2,113.9h0.6v0.6h-0.6zM54.8,121.9h0.6v0.6h-0.6zM63.1,125.5h0.6v0.6h-0.6zM61.1,112.6h0.6v0.6h-0.6zM58.1,127.9h0.6v0.6h-0.6zM69.5,100.8h0.6v0.6h-0.6zM64.8,113.8h0.6v0.6h-0.6zM61.5,113.3h0.6v0.6h-0.6zM61.3,102.5h0.6v0.6h-0.6zM59.5,113.3h0.6v0.6h-0.6zM68.3,116.9h0.6v0.6h-0.6zM59.1,117.9h0.6v0.6h-0.6zM60.2,115.0h0.6v0.6h-0.6zM72.6,113.3h0.6v0.6h-0.6zM65.2,101.8h0.6v0.6h-0.6zM69.4,115.7h0.6v0.6h-0.6zM58.6,103.9h0.6v0.6h-0.6zM61.8,111.0h0.6v0.6h-0.6zM64.5,111.1h0.6v0.6h-0.6zM55.9,102.1h0.6v0.6h-0.6zM57.2,133.2h0.6v0.6h-0.6zM62.0,113.8h0.6v0.6h-0.6zM63.9,120.0h0.6v0.6h-0.6zM53.9,104.3h0.6v0.6h-0.6zM63.5,117.7h0.6v0.6h-0.6zM68.2,114.4h0.6v0.6h-0.6zM70.5,110.8h0.6v0.6h-0.6zM65.1,109.7h0.6v0.6h-0.6zM57.3,111.4h0.6v0.6h-0.6zM67.1,118.0h0.6v0.6h-0.6zM52.3,109.7h0.6v0.6h-0.6zM61.6,103.0h0.6v0.6h-0.6zM63.5,121.9h0.6v0.6h-0.6zM55.4,111.0h0.6v0.6h-0.6zM59.9,105.6h0.6v0.6h-0.6zM65.3,105.5h0.6v0.6h-0.6zM63.8,111.4h0.6v0.6h-0.6zM68.2,119.8h0.6v0.6h-0.6zM61.4,106.1h0.6v0.6h-0.6zM62.2,116.7h0.6v0.6h-0.6zM70.7,112.7h0.6v0.6h-0.6zM58.6,111.8h0.6v0.6h-0.6zM60.4,111.6h0.6v0.6h-0.6zM55.8,109.3h0.6v0.6h-0.6zM65.6,108.8h0.6v0.6h-0.6zM59.0,105.1h0.6v0.6h-0.6zM62.9,125.2h0.6v0.6h-0.6zM70.1,108.7h0.6v0.6h-0.6zM68.7,111.2h0.6v0.6h-0.6zM64.3,133.6h0.6v0.6h-0.6zM56.3,118.9h0.6v0.6h-0.6zM51.1,103.2h0.6v0.6h-0.6zM61.6,108.2h0.6v0.6h-0.6zM52.8,124.0h0.6v0.6h-0.6zM66.7,122.0h0.6v0.6h-0.6zM53.8,114.4h0.6v0.6h-0.6zM70.6,109.4h0.6v0.6h-0.6zM65.0,109.2h0.6v0.6h-0.6zM63.0,107.9h0.6v0.6h-0.6zM49.0,110.9h0.6v0.6h-0.6zM67.4,104.0h0.6v0.6h-0.6zM64.7,99.8h0.6v0.6h-0.6zM68.0,103.4h0.6v0.6h-0.6zM48.2,99.9h0.6v0.6h-0.6zM66.9,108.1h0.6v0.6h-0.6zM61.8,129.1h0.6v0.6h-0.6zM65.4,124.1h0.6v0.6h-0.6zM63.5,123.3h0.6v0.6h-0.6zM67.1,105.9h0.6v0.6h-0.6zM60.0,99.8h0.6v0.6h-0.6zM65.2,124.4h0.6v0.6h-0.6zM70.1,105.4h0.6v0.6h-0.6zM76.1,122.6h0.6v0.6h-0.6zM75.7,118.6h0.6v0.6h-0.6zM69.7,104.8h0.6v0.6h-0.6zM63.4,109.6h0.6v0.6h-0.6zM63.9,119.7h0.6v0.6h-0.6zM71.0,103.1h0.6v0.6h-0.6zM68.4,122.5h0.6v0.6h-0.6zM62.3,110.8h0.6v0.6h-0.6zM66.3,110.8h0.6v0.6h-0.6zM66.7,114.6h0.6v0.6h-0.6zM72.0,121.7h0.6v0.6h-0.6zM66.5,117.8h0.6v0.6h-0.6zM64.4,111.7h0.6v0.6h-0.6zM53.7,117.3h0.6v0.6h-0.6zM62.2,114.9h0.6v0.6h-0.6zM60.1,120.7h0.6v0.6h-0.6zM70.6,119.1h0.6v0.6h-0.6zM62.7,102.6h0.6v0.6h-0.6zM66.7,118.6h0.6v0.6h-0.6zM64.8,110.6h0.6v0.6h-0.6zM57.1,117.0h0.6v0.6h-0.6zM58.5,111.8h0.6v0.6h-0.6zM53.8,110.6h0.6v0.6h-0.6zM60.5,105.2h0.6v0.6h-0.6zM54.6,117.1h0.6v0.6h-0.6zM64.2,109.1h0.6v0.6h-0.6zM68.1,110.2h0.6v0.6h-0.6zM56.3,108.6h0.6v0.6h-0.6zM59.4,103.7h0.6v0.6h-0.6zM67.7,115.7h0.6v0.6h-0.6zM61.6,98.3h0.6v0.6h-0.6zM57.1,101.4h0.6v0.6h-0.6zM66.4,120.0h0.6v0.6h-0.6zM68.8,108.2h0.6v0.6h-0.6zM69.0,120.2h0.6v0.6h-0.6zM70.6,106.8h0.6v0.6h-0.6zM59.3,105.4h0.6v0.6h-0.6zM61.8,118.5h0.6v0.6h-0.6zM52.6,114.7h0.6v0.6h-0.6zM62.2,108.9h0.6v0.6h-0.6zM66.2,123.4h0.6v0.6h-0.6zM57.7,108.9h0.6v0.6h-0.6zM66.9,117.2h0.6v0.6h-0.6zM66.1,114.6h0.6v0.6h-0.6zM58.3,114.0h0.6v0.6h-0.6zM60.6,102.8h0.6v0.6h-0.6zM73.2,97.7h0.6v0.6h-0.6zM52.7,118.2h0.6v0.6h-0.6zM69.4,117.5h0.6v0.6h-0.6zM66.4,112.9h0.6v0.6h-0.6zM55.3,105.7h0.6v0.6h-0.6zM50.9,105.2h0.6v0.6h-0.6zM70.1,122.0h0.6v0.6h-0.6zM54.8,107.5h0.6v0.6h-0.6zM49.7,129.3h0.6v0.6h-0.6zM68.7,121.9h0.6v0.6h-0.6zM69.8,100.6h0.6v0.6h-0.6zM59.5,111.5h0.6v0.6h-0.6zM68.2,129.4h0.6v0.6h-0.6zM59.6,118.5h0.6v0.6h-0.6zM66.6,104.8h0.6v0.6h-0.6zM53.8,122.1h0.6v0.6h-0.6zM57.7,130.9h0.6v0.6h-0.6zM60.4,122.8h0.6v0.6h-0.6zM53.8,110.4h0.6v0.6h-0.6zM70.1,104.9h0.6v0.6h-0.6zM66.8,114.1h0.6v0.6h-0.6zM61.1,109.8h0.6v0.6h-0.6zM63.2,106.4h0.6v0.6h-0.6zM66.9,124.2h0.6v0.6h-0.6zM66.3,127.9h0.6v0.6h-0.6zM65.6,129.0h0.6v0.6h-0.6zM76.0,103.2h0.6v0.6h-0.6z" fill="#2a2af0" opacity="0.7"/>
<path d="M64.7,112.5 L64.8,113.3 L64.5,113.9 L64.1,114.3 L63.6,114.3 L63.3,114.5 L63.0,114.5 L62.6,114.9 L62.2,114.9 L61.7,114.6 L61.6,113.9 L61.5,113.1 L61.7,112.5 L61.9,112.0 L61.9,111.4 L62.0,110.8 L62.1,110.0 L62.5,109.6 L63.0,109.7 L63.4,110.1 L63.7,110.5 L63.9,111.0 L64.1,111.5 L64.4,111.9 Z" fill="none" stroke="#2222f0" stroke-width="0.55" opacity="0.9" stroke-linejoin="round"/>
<path d="M66.3,112.5 L66.1,113.9 L65.6,115.0 L65.1,116.0 L64.3,116.4 L63.7,117.0 L63.0,117.4 L62.2,117.5 L61.4,117.2 L60.8,116.2 L60.2,115.1 L60.3,113.7 L60.3,112.5 L60.5,111.4 L60.5,110.1 L60.8,108.8 L61.4,107.8 L62.2,107.3 L63.0,107.5 L63.7,108.0 L64.4,108.5 L64.9,109.3 L65.5,110.1 L66.0,111.2 Z" fill="none" stroke="#2222f0" stroke-width="0.55" opacity="0.9" stroke-linejoin="round"/>
<path d="M67.6,112.5 L67.4,114.5 L67.1,116.5 L66.4,118.2 L65.3,119.1 L64.1,119.3 L63.0,119.2 L61.9,119.4 L60.8,118.9 L59.7,118.1 L59.0,116.4 L58.4,114.6 L58.5,112.5 L58.9,110.7 L59.3,108.9 L60.0,107.5 L60.8,106.2 L61.8,105.3 L63.0,104.4 L64.2,105.0 L65.2,106.2 L66.1,107.4 L66.8,108.9 L67.2,110.6 Z" fill="none" stroke="#2222f0" stroke-width="0.55" opacity="0.9" stroke-linejoin="round"/>
<path d="M69.2,112.5 L68.9,115.1 L68.1,117.4 L67.0,119.1 L65.9,121.0 L64.5,121.9 L63.0,122.7 L61.4,122.3 L59.7,121.9 L58.4,120.1 L57.7,117.6 L57.2,115.1 L57.3,112.5 L57.4,110.0 L58.0,107.7 L58.7,105.3 L59.7,103.1 L61.4,102.6 L63.0,102.8 L64.5,103.2 L65.8,104.6 L67.1,105.6 L68.0,107.7 L69.1,109.8 Z" fill="none" stroke="#2222f0" stroke-width="0.55" opacity="0.9" stroke-linejoin="round"/>
<path d="M70.5,112.5 L70.5,115.8 L69.6,118.7 L68.4,121.3 L66.7,122.9 L64.9,124.3 L63.0,124.5 L61.1,123.8 L59.2,123.1 L57.6,121.3 L56.2,118.9 L55.6,115.7 L55.4,112.5 L55.9,109.4 L56.8,106.7 L57.6,103.8 L59.3,102.2 L61.0,100.4 L63.0,99.8 L65.0,100.4 L66.7,102.0 L68.3,104.0 L69.2,106.7 L70.3,109.3 Z" fill="none" stroke="#2222f0" stroke-width="0.55" opacity="0.9" stroke-linejoin="round"/>
<path d="M44.4,108 C44.4,98 52,96.2 55.5,98.5 C57,100 57.2,104 57.2,110 L57.2,126 C57,132.5 52,133.6 49.5,133.4 C45.5,133 44.4,129 44.4,124 Z" fill="#1010ee" filter="url(#rough)"/>
<rect x="41.3" y="92.6" width="13.5" height="37.80000000000001" rx="0.6" fill="none" stroke="#666" stroke-width="0.9"/>
<rect x="57.1" y="92.6" width="24.499999999999993" height="37.80000000000001" rx="0.6" fill="none" stroke="#666" stroke-width="0.9"/>
<path d="M151.9,106.3h0.6v0.6h-0.6zM153.2,109.8h0.6v0.6h-0.6zM152.4,127.8h0.6v0.6h-0.6zM142.0,116.7h0.6v0.6h-0.6zM146.4,105.1h0.6v0.6h-0.6zM151.1,103.3h0.6v0.6h-0.6zM151.6,114.5h0.6v0.6h-0.6zM148.1,96.3h0.6v0.6h-0.6zM155.7,120.5h0.6v0.6h-0.6zM145.2,106.3h0.6v0.6h-0.6zM139.3,103.4h0.6v0.6h-0.6zM155.7,117.3h0.6v0.6h-0.6zM154.4,116.0h0.6v0.6h-0.6zM153.9,103.5h0.6v0.6h-0.6zM148.3,113.0h0.6v0.6h-0.6zM151.6,127.9h0.6v0.6h-0.6zM152.7,108.9h0.6v0.6h-0.6zM145.5,122.1h0.6v0.6h-0.6zM149.8,107.4h0.6v0.6h-0.6zM151.1,111.0h0.6v0.6h-0.6zM150.9,112.6h0.6v0.6h-0.6zM147.0,119.0h0.6v0.6h-0.6zM152.3,104.3h0.6v0.6h-0.6zM134.9,112.4h0.6v0.6h-0.6zM142.8,129.9h0.6v0.6h-0.6zM149.4,103.1h0.6v0.6h-0.6zM146.7,111.2h0.6v0.6h-0.6zM150.8,101.6h0.6v0.6h-0.6zM149.8,109.8h0.6v0.6h-0.6zM152.3,110.6h0.6v0.6h-0.6zM152.7,118.7h0.6v0.6h-0.6zM152.1,100.9h0.6v0.6h-0.6zM153.4,119.6h0.6v0.6h-0.6zM143.4,100.8h0.6v0.6h-0.6zM140.8,120.6h0.6v0.6h-0.6zM148.9,105.6h0.6v0.6h-0.6zM154.1,109.7h0.6v0.6h-0.6zM145.8,116.1h0.6v0.6h-0.6zM153.1,113.4h0.6v0.6h-0.6zM144.6,106.6h0.6v0.6h-0.6zM151.6,127.1h0.6v0.6h-0.6zM156.1,106.7h0.6v0.6h-0.6zM141.1,124.8h0.6v0.6h-0.6zM154.6,117.4h0.6v0.6h-0.6zM148.0,130.2h0.6v0.6h-0.6zM152.1,115.5h0.6v0.6h-0.6zM143.8,115.6h0.6v0.6h-0.6zM143.6,126.4h0.6v0.6h-0.6zM149.1,119.1h0.6v0.6h-0.6zM154.9,102.7h0.6v0.6h-0.6zM138.8,116.2h0.6v0.6h-0.6zM151.5,106.1h0.6v0.6h-0.6zM151.0,124.7h0.6v0.6h-0.6zM137.3,123.3h0.6v0.6h-0.6zM154.7,111.9h0.6v0.6h-0.6zM146.6,111.7h0.6v0.6h-0.6zM149.1,112.5h0.6v0.6h-0.6zM149.1,111.7h0.6v0.6h-0.6zM152.1,121.6h0.6v0.6h-0.6zM154.3,116.8h0.6v0.6h-0.6zM149.4,118.8h0.6v0.6h-0.6zM146.3,113.1h0.6v0.6h-0.6zM144.1,114.2h0.6v0.6h-0.6zM148.7,108.1h0.6v0.6h-0.6zM135.7,119.8h0.6v0.6h-0.6zM144.2,115.1h0.6v0.6h-0.6zM137.1,114.3h0.6v0.6h-0.6zM146.8,121.5h0.6v0.6h-0.6zM150.9,101.0h0.6v0.6h-0.6zM154.0,109.6h0.6v0.6h-0.6zM154.3,109.2h0.6v0.6h-0.6zM152.3,112.9h0.6v0.6h-0.6zM152.8,111.0h0.6v0.6h-0.6zM153.7,114.6h0.6v0.6h-0.6zM140.8,126.1h0.6v0.6h-0.6zM147.0,112.8h0.6v0.6h-0.6zM145.7,109.3h0.6v0.6h-0.6zM149.5,104.9h0.6v0.6h-0.6zM153.6,111.2h0.6v0.6h-0.6zM141.4,109.6h0.6v0.6h-0.6zM148.3,120.2h0.6v0.6h-0.6zM157.4,103.3h0.6v0.6h-0.6zM139.3,103.1h0.6v0.6h-0.6zM143.6,115.2h0.6v0.6h-0.6zM144.7,103.7h0.6v0.6h-0.6zM147.1,104.9h0.6v0.6h-0.6zM149.6,113.5h0.6v0.6h-0.6zM151.6,112.9h0.6v0.6h-0.6zM148.6,101.4h0.6v0.6h-0.6zM157.5,108.7h0.6v0.6h-0.6zM151.4,105.2h0.6v0.6h-0.6zM148.0,104.8h0.6v0.6h-0.6zM148.7,114.2h0.6v0.6h-0.6zM154.6,115.9h0.6v0.6h-0.6zM158.3,119.1h0.6v0.6h-0.6zM140.9,115.7h0.6v0.6h-0.6zM155.1,111.5h0.6v0.6h-0.6zM142.2,122.2h0.6v0.6h-0.6zM147.4,116.4h0.6v0.6h-0.6zM155.2,126.1h0.6v0.6h-0.6zM156.3,122.2h0.6v0.6h-0.6zM143.4,115.5h0.6v0.6h-0.6zM147.8,120.3h0.6v0.6h-0.6zM140.3,110.8h0.6v0.6h-0.6zM149.1,114.9h0.6v0.6h-0.6zM143.7,113.6h0.6v0.6h-0.6zM140.3,116.0h0.6v0.6h-0.6zM147.2,120.8h0.6v0.6h-0.6zM145.6,110.4h0.6v0.6h-0.6zM155.4,124.2h0.6v0.6h-0.6zM148.1,105.9h0.6v0.6h-0.6zM145.8,114.4h0.6v0.6h-0.6zM154.8,115.2h0.6v0.6h-0.6zM148.2,96.2h0.6v0.6h-0.6zM143.1,115.5h0.6v0.6h-0.6zM143.1,123.8h0.6v0.6h-0.6zM153.6,109.8h0.6v0.6h-0.6zM152.0,114.9h0.6v0.6h-0.6zM153.1,114.9h0.6v0.6h-0.6zM142.1,105.7h0.6v0.6h-0.6zM154.1,115.1h0.6v0.6h-0.6zM137.0,123.0h0.6v0.6h-0.6zM133.0,113.7h0.6v0.6h-0.6zM147.3,99.1h0.6v0.6h-0.6zM154.4,121.4h0.6v0.6h-0.6zM156.2,125.0h0.6v0.6h-0.6zM158.5,98.4h0.6v0.6h-0.6zM157.1,110.8h0.6v0.6h-0.6zM132.3,123.8h0.6v0.6h-0.6zM143.2,114.8h0.6v0.6h-0.6zM144.5,111.0h0.6v0.6h-0.6zM144.4,113.5h0.6v0.6h-0.6zM153.5,124.4h0.6v0.6h-0.6zM145.5,103.6h0.6v0.6h-0.6zM147.4,113.7h0.6v0.6h-0.6zM145.1,116.6h0.6v0.6h-0.6zM144.4,107.5h0.6v0.6h-0.6zM146.1,109.2h0.6v0.6h-0.6zM152.4,121.7h0.6v0.6h-0.6zM150.4,118.1h0.6v0.6h-0.6zM149.2,103.6h0.6v0.6h-0.6zM148.6,114.9h0.6v0.6h-0.6zM150.4,115.7h0.6v0.6h-0.6z" fill="#20a820" opacity="0.7"/>
<path d="M148.8,113.0 L148.6,113.7 L148.2,114.2 L147.9,114.5 L147.6,114.7 L147.3,115.2 L147.0,115.6 L146.5,115.8 L146.1,115.5 L145.8,114.9 L145.7,114.2 L145.9,113.5 L145.7,113.0 L145.7,112.4 L145.6,111.7 L145.8,110.9 L146.1,110.4 L146.6,110.4 L147.0,110.7 L147.3,111.0 L147.6,111.3 L147.9,111.5 L148.4,111.7 L148.7,112.2 Z" fill="none" stroke="#18a818" stroke-width="0.55" opacity="0.9" stroke-linejoin="round"/>
<path d="M149.7,113.0 L149.8,114.2 L149.7,115.6 L149.2,116.7 L148.7,117.9 L147.9,118.3 L147.0,117.9 L146.3,117.6 L145.7,116.8 L145.0,116.3 L144.5,115.4 L143.9,114.4 L143.8,113.0 L143.9,111.6 L144.5,110.6 L145.1,109.8 L145.7,109.1 L146.3,108.5 L147.0,108.0 L147.8,107.7 L148.6,108.3 L149.3,109.2 L149.6,110.5 L149.6,111.8 Z" fill="none" stroke="#18a818" stroke-width="0.55" opacity="0.9" stroke-linejoin="round"/>
<path d="M151.2,113.0 L151.0,114.8 L150.7,116.6 L150.2,118.3 L149.3,119.8 L148.3,120.8 L147.0,121.1 L145.8,120.5 L144.9,119.2 L144.0,118.0 L143.4,116.5 L142.6,115.0 L142.4,113.0 L142.5,111.0 L142.9,109.0 L143.8,107.7 L144.7,106.5 L145.9,106.1 L147.0,106.1 L148.1,105.9 L149.3,106.4 L150.3,107.5 L151.1,109.1 L151.5,111.0 Z" fill="none" stroke="#18a818" stroke-width="0.55" opacity="0.9" stroke-linejoin="round"/>
<path d="M153.3,113.0 L153.1,115.7 L152.5,118.3 L151.0,119.7 L149.8,121.2 L148.5,122.2 L147.0,122.9 L145.4,122.6 L143.9,121.9 L142.6,120.3 L141.8,118.0 L141.5,115.5 L141.3,113.0 L141.7,110.6 L141.9,108.1 L142.8,106.0 L143.8,103.8 L145.4,103.0 L147.0,102.7 L148.5,103.9 L149.8,104.8 L151.0,106.3 L152.1,108.1 L153.1,110.3 Z" fill="none" stroke="#18a818" stroke-width="0.55" opacity="0.9" stroke-linejoin="round"/>
<path d="M154.0,113.0 L154.0,116.2 L153.3,119.3 L152.2,122.0 L150.8,124.3 L148.9,125.5 L147.0,126.6 L145.1,125.1 L143.4,123.8 L142.0,121.6 L140.9,119.2 L139.5,116.5 L139.3,113.0 L139.5,109.5 L140.5,106.5 L141.7,103.8 L143.3,101.9 L145.2,101.2 L147.0,100.4 L149.0,100.2 L150.9,101.3 L152.7,103.2 L153.5,106.5 L153.9,109.8 Z" fill="none" stroke="#18a818" stroke-width="0.55" opacity="0.9" stroke-linejoin="round"/>
<path d="M128,112 C128,102 133,96.5 137.5,96.8 C141,97 141.2,102 141.2,106 L141.2,127 C141,130.5 136,130.6 132,130.2 C128.5,129.6 128,126 128,121 Z" fill="#0ca20c" filter="url(#rough)"/>
<rect x="124.3" y="92.2" width="14.200000000000003" height="40.2" rx="0.6" fill="none" stroke="#666" stroke-width="0.9"/>
<rect x="140.6" y="92.2" width="23.0" height="40.2" rx="0.6" fill="none" stroke="#666" stroke-width="0.9"/>
<line x1="13" y1="125.4" x2="13" y2="85" stroke="#111" stroke-width="1.4" />
<path d="M13,78 L9.4,87.5 L16.6,87.5 Z" fill="#111"/>
<text transform="translate(16.8,140.25) rotate(-90)" x="0" y="0" font-size="11.5" fill="#222" text-anchor="middle" textLength="20.7" lengthAdjust="spacingAndGlyphs">CD56</text>
<text x="24.8" y="166.8" font-size="11.6" fill="#222" font-weight="normal" textLength="15.4" lengthAdjust="spacingAndGlyphs" >GFP</text>
<line x1="46.2" y1="163.2" x2="176" y2="163.2" stroke="#111" stroke-width="1.4" />
<path d="M184.6,163.2 L175,159.2 L175,167.2 Z" fill="#111"/>
<text x="31" y="219.8" font-size="11.2" fill="#222" textLength="145.6" lengthAdjust="spacingAndGlyphs">Target: CD19<tspan dy="-3.8" font-size="8">+</tspan><tspan dy="4"> Raji lymphoma</tspan></text>
<text x="35.7" y="233.3" font-size="9.0" fill="#222" font-weight="normal" textLength="51.5" lengthAdjust="spacingAndGlyphs" >19-CAR-cNK</text>
<text x="124" y="233.3" font-size="9.0" fill="#222" font-weight="normal" textLength="47.2" lengthAdjust="spacingAndGlyphs" >19-CAR-ML</text>
<line x1="23.2" y1="239.6" x2="101.5" y2="239.6" stroke="#b0b0b0" stroke-width="1.0" />
<line x1="101.5" y1="239.6" x2="101.5" y2="313.8" stroke="#a8a8a8" stroke-width="1.0" />
<line x1="23.2" y1="313.8" x2="101.5" y2="313.8" stroke="#666" stroke-width="1.0" />
<line x1="23.2" y1="239.6" x2="23.2" y2="313.8" stroke="#b8b8b8" stroke-width="1.0" />
<path d="M25.2,313.8 v1.4M27.0,313.8 v1.0M28.4,313.8 v1.0M30.8,313.8 v0.8M32.9,313.8 v1.4M34.8,313.8 v2.0M37.7,313.8 v1.0M39.8,313.8 v1.0M41.8,313.8 v2.0M44.2,313.8 v1.4M46.3,313.8 v0.8M48.7,313.8 v0.8M50.1,313.8 v1.4M51.4,313.8 v0.8M53.3,313.8 v2.0M55.7,313.8 v0.8M58.6,313.8 v1.4M61.1,313.8 v1.0M64.0,313.8 v1.0M66.5,313.8 v0.8M67.8,313.8 v0.8M70.8,313.8 v1.0M73.2,313.8 v0.8M74.7,313.8 v2.0M77.6,313.8 v2.0M79.4,313.8 v2.0M81.9,313.8 v1.0M83.5,313.8 v1.4M85.4,313.8 v1.0M87.7,313.8 v1.4M90.2,313.8 v1.4M92.0,313.8 v1.0M94.1,313.8 v2.0M97.0,313.8 v1.0M99.2,313.8 v1.0M23.2,242.6 h-0.8M23.2,247.4 h-0.8M23.2,252.2 h-2.0M23.2,256.7 h-1.4M23.2,259.3 h-0.8M23.2,262.3 h-1.0M23.2,265.4 h-0.8M23.2,268.1 h-1.4M23.2,271.3 h-1.0M23.2,274.2 h-1.4M23.2,276.9 h-1.4M23.2,281.1 h-1.0M23.2,283.8 h-2.0M23.2,286.3 h-1.0M23.2,289.1 h-1.0M23.2,291.7 h-1.4M23.2,295.5 h-1.0M23.2,299.6 h-2.0M23.2,303.4 h-2.0M23.2,307.2 h-1.4M23.2,310.5 h-0.8M23.2,312.7 h-2.0" stroke="#333" stroke-width="0.8" fill="none"/>
<line x1="107.3" y1="239.3" x2="184.7" y2="239.3" stroke="#b0b0b0" stroke-width="1.0" />
<line x1="184.7" y1="239.3" x2="184.7" y2="313.8" stroke="#a8a8a8" stroke-width="1.0" />
<line x1="107.3" y1="313.8" x2="184.7" y2="313.8" stroke="#666" stroke-width="1.0" />
<line x1="107.3" y1="239.3" x2="107.3" y2="313.8" stroke="#b8b8b8" stroke-width="1.0" />
<path d="M109.3,313.8 v1.0M111.0,313.8 v2.0M113.6,313.8 v1.0M115.6,313.8 v2.0M117.5,313.8 v2.0M120.2,313.8 v0.8M122.8,313.8 v1.4M125.8,313.8 v1.0M128.1,313.8 v0.8M130.0,313.8 v1.0M132.9,313.8 v2.0M135.4,313.8 v1.0M138.3,313.8 v2.0M140.3,313.8 v0.8M142.6,313.8 v1.0M145.1,313.8 v1.4M147.4,313.8 v1.4M149.7,313.8 v2.0M152.6,313.8 v1.4M155.6,313.8 v2.0M158.2,313.8 v1.4M160.2,313.8 v1.4M162.6,313.8 v1.0M164.4,313.8 v1.0M166.7,313.8 v2.0M169.3,313.8 v1.4M171.6,313.8 v1.4M174.7,313.8 v2.0M176.2,313.8 v2.0M178.3,313.8 v2.0M180.6,313.8 v1.4M182.1,313.8 v0.8M107.3,242.3 h-1.0M107.3,244.8 h-1.0M107.3,247.2 h-0.8M107.3,251.9 h-1.4M107.3,255.1 h-0.8M107.3,258.6 h-1.4M107.3,261.2 h-1.4M107.3,263.6 h-0.8M107.3,267.0 h-2.0M107.3,269.5 h-1.4M107.3,274.4 h-1.0M107.3,277.2 h-1.0M107.3,281.2 h-1.0M107.3,286.1 h-1.4M107.3,290.3 h-0.8M107.3,292.6 h-1.0M107.3,296.9 h-1.0M107.3,301.8 h-1.4M107.3,306.7 h-1.4M107.3,311.2 h-1.0" stroke="#333" stroke-width="0.8" fill="none"/>
<line x1="23.2" y1="334" x2="101.5" y2="334" stroke="#b0b0b0" stroke-width="1.0" />
<line x1="101.5" y1="334" x2="101.5" y2="408.7" stroke="#a8a8a8" stroke-width="1.0" />
<line x1="23.2" y1="408.7" x2="101.5" y2="408.7" stroke="#666" stroke-width="1.0" />
<line x1="23.2" y1="334" x2="23.2" y2="408.7" stroke="#b8b8b8" stroke-width="1.0" />
<path d="M25.2,408.7 v2.0M26.9,408.7 v1.0M28.9,408.7 v2.0M31.6,408.7 v2.0M34.7,408.7 v2.0M36.4,408.7 v1.4M38.8,408.7 v2.0M40.3,408.7 v0.8M41.9,408.7 v0.8M43.5,408.7 v1.0M45.7,408.7 v1.0M48.6,408.7 v1.4M50.3,408.7 v1.4M51.9,408.7 v1.0M53.5,408.7 v0.8M55.7,408.7 v1.4M57.2,408.7 v1.4M59.8,408.7 v1.0M61.5,408.7 v0.8M63.9,408.7 v1.0M65.3,408.7 v0.8M67.8,408.7 v2.0M70.4,408.7 v2.0M72.1,408.7 v0.8M73.5,408.7 v2.0M75.0,408.7 v0.8M76.9,408.7 v1.4M79.7,408.7 v1.4M81.1,408.7 v1.0M83.1,408.7 v2.0M86.2,408.7 v1.4M88.6,408.7 v2.0M90.7,408.7 v0.8M92.6,408.7 v1.0M94.2,408.7 v2.0M95.5,408.7 v1.4M98.7,408.7 v0.8M23.2,337.0 h-1.0M23.2,339.9 h-0.8M23.2,343.1 h-1.4M23.2,345.8 h-2.0M23.2,349.5 h-1.4M23.2,353.4 h-2.0M23.2,357.4 h-1.0M23.2,360.9 h-2.0M23.2,364.8 h-0.8M23.2,367.4 h-2.0M23.2,370.9 h-0.8M23.2,373.7 h-1.0M23.2,377.0 h-1.0M23.2,380.0 h-1.0M23.2,382.7 h-1.4M23.2,385.0 h-2.0M23.2,387.2 h-1.0M23.2,391.4 h-2.0M23.2,393.5 h-0.8M23.2,396.9 h-0.8M23.2,399.1 h-2.0M23.2,403.8 h-0.8M23.2,406.9 h-1.4" stroke="#333" stroke-width="0.8" fill="none"/>
<line x1="107.3" y1="333.6" x2="184.7" y2="333.6" stroke="#b0b0b0" stroke-width="1.0" />
<line x1="184.7" y1="333.6" x2="184.7" y2="408.7" stroke="#a8a8a8" stroke-width="1.0" />
<line x1="107.3" y1="408.7" x2="184.7" y2="408.7" stroke="#666" stroke-width="1.0" />
<line x1="107.3" y1="333.6" x2="107.3" y2="408.7" stroke="#b8b8b8" stroke-width="1.0" />
<path d="M109.3,408.7 v2.0M111.5,408.7 v1.4M114.3,408.7 v1.4M116.7,408.7 v0.8M118.7,408.7 v0.8M120.2,408.7 v1.0M121.9,408.7 v1.0M124.5,408.7 v1.0M127.0,408.7 v0.8M130.1,408.7 v1.4M132.4,408.7 v0.8M134.5,408.7 v1.4M137.1,408.7 v0.8M139.1,408.7 v1.4M141.5,408.7 v2.0M143.5,408.7 v1.4M145.9,408.7 v0.8M147.8,408.7 v2.0M150.5,408.7 v1.4M153.2,408.7 v1.4M154.8,408.7 v0.8M157.3,408.7 v2.0M160.5,408.7 v2.0M163.2,408.7 v1.4M165.6,408.7 v1.0M168.8,408.7 v0.8M171.2,408.7 v1.0M173.1,408.7 v1.4M174.5,408.7 v1.0M177.6,408.7 v2.0M179.3,408.7 v2.0M181.6,408.7 v1.4M183.6,408.7 v0.8M107.3,336.6 h-2.0M107.3,339.7 h-2.0M107.3,342.5 h-1.0M107.3,344.9 h-1.0M107.3,349.2 h-0.8M107.3,353.1 h-0.8M107.3,357.0 h-2.0M107.3,360.4 h-2.0M107.3,363.9 h-2.0M107.3,367.7 h-2.0M107.3,370.9 h-1.0M107.3,375.7 h-1.0M107.3,379.4 h-0.8M107.3,384.3 h-1.0M107.3,387.5 h-0.8M107.3,389.9 h-1.0M107.3,394.7 h-1.4M107.3,398.4 h-1.0M107.3,403.1 h-2.0" stroke="#333" stroke-width="0.8" fill="none"/>
<path d="M61.2,288.5h0.6v0.6h-0.6zM43.0,269.5h0.6v0.6h-0.6zM42.7,269.3h0.6v0.6h-0.6zM65.7,279.1h0.6v0.6h-0.6zM43.5,272.6h0.6v0.6h-0.6zM44.8,275.0h0.6v0.6h-0.6zM57.3,281.1h0.6v0.6h-0.6zM54.9,285.6h0.6v0.6h-0.6zM65.6,262.5h0.6v0.6h-0.6zM42.9,289.8h0.6v0.6h-0.6zM63.8,283.3h0.6v0.6h-0.6zM55.1,260.2h0.6v0.6h-0.6zM56.7,291.0h0.6v0.6h-0.6zM67.8,277.1h0.6v0.6h-0.6zM55.3,270.9h0.6v0.6h-0.6zM57.4,282.7h0.6v0.6h-0.6zM35.3,268.8h0.6v0.6h-0.6zM46.9,283.2h0.6v0.6h-0.6zM47.7,282.2h0.6v0.6h-0.6zM56.8,289.0h0.6v0.6h-0.6zM54.4,267.3h0.6v0.6h-0.6zM51.9,288.1h0.6v0.6h-0.6zM40.6,284.2h0.6v0.6h-0.6zM58.3,267.3h0.6v0.6h-0.6zM44.9,278.8h0.6v0.6h-0.6zM49.2,280.1h0.6v0.6h-0.6zM35.3,284.3h0.6v0.6h-0.6zM47.8,261.4h0.6v0.6h-0.6zM53.5,270.5h0.6v0.6h-0.6zM51.7,264.7h0.6v0.6h-0.6zM56.9,280.9h0.6v0.6h-0.6zM45.6,288.0h0.6v0.6h-0.6zM52.6,279.8h0.6v0.6h-0.6zM54.7,264.9h0.6v0.6h-0.6zM73.1,284.9h0.6v0.6h-0.6zM49.9,276.4h0.6v0.6h-0.6zM35.9,282.0h0.6v0.6h-0.6zM58.7,276.9h0.6v0.6h-0.6zM71.2,277.1h0.6v0.6h-0.6zM37.3,289.9h0.6v0.6h-0.6zM48.3,294.2h0.6v0.6h-0.6zM55.9,286.5h0.6v0.6h-0.6zM35.2,279.3h0.6v0.6h-0.6zM49.1,256.2h0.6v0.6h-0.6zM45.2,287.2h0.6v0.6h-0.6zM50.5,276.7h0.6v0.6h-0.6zM60.4,280.4h0.6v0.6h-0.6zM53.4,288.0h0.6v0.6h-0.6zM48.3,272.3h0.6v0.6h-0.6zM49.7,254.0h0.6v0.6h-0.6zM47.9,284.9h0.6v0.6h-0.6zM59.8,277.2h0.6v0.6h-0.6zM51.1,278.3h0.6v0.6h-0.6zM27.8,260.4h0.6v0.6h-0.6zM60.0,288.1h0.6v0.6h-0.6zM41.8,276.9h0.6v0.6h-0.6zM50.6,277.1h0.6v0.6h-0.6zM40.6,279.4h0.6v0.6h-0.6zM41.6,264.9h0.6v0.6h-0.6zM66.5,286.7h0.6v0.6h-0.6zM48.3,271.8h0.6v0.6h-0.6zM55.6,279.3h0.6v0.6h-0.6zM42.2,291.0h0.6v0.6h-0.6zM63.3,280.0h0.6v0.6h-0.6zM68.5,290.2h0.6v0.6h-0.6zM50.4,269.1h0.6v0.6h-0.6zM48.8,284.5h0.6v0.6h-0.6zM72.9,272.0h0.6v0.6h-0.6zM47.3,264.6h0.6v0.6h-0.6zM70.4,278.4h0.6v0.6h-0.6zM36.3,282.6h0.6v0.6h-0.6zM44.3,285.9h0.6v0.6h-0.6zM41.5,282.4h0.6v0.6h-0.6zM34.2,263.4h0.6v0.6h-0.6zM46.9,289.0h0.6v0.6h-0.6zM68.4,284.1h0.6v0.6h-0.6zM42.5,274.7h0.6v0.6h-0.6zM54.8,270.7h0.6v0.6h-0.6zM63.4,270.9h0.6v0.6h-0.6zM49.4,285.0h0.6v0.6h-0.6zM52.0,271.5h0.6v0.6h-0.6zM47.1,281.1h0.6v0.6h-0.6zM44.9,282.0h0.6v0.6h-0.6zM31.6,275.9h0.6v0.6h-0.6zM65.6,271.0h0.6v0.6h-0.6zM69.9,277.7h0.6v0.6h-0.6zM48.6,278.1h0.6v0.6h-0.6zM43.4,268.5h0.6v0.6h-0.6zM55.8,270.9h0.6v0.6h-0.6zM62.5,269.9h0.6v0.6h-0.6zM51.3,261.4h0.6v0.6h-0.6zM50.9,259.6h0.6v0.6h-0.6zM56.7,277.0h0.6v0.6h-0.6zM44.7,261.6h0.6v0.6h-0.6zM54.3,268.2h0.6v0.6h-0.6zM63.1,292.2h0.6v0.6h-0.6zM45.8,254.8h0.6v0.6h-0.6zM59.2,273.1h0.6v0.6h-0.6zM77.8,275.9h0.6v0.6h-0.6zM46.3,272.3h0.6v0.6h-0.6zM49.5,273.0h0.6v0.6h-0.6zM47.2,281.3h0.6v0.6h-0.6zM47.0,276.6h0.6v0.6h-0.6zM47.8,283.8h0.6v0.6h-0.6zM32.3,265.4h0.6v0.6h-0.6zM39.4,265.1h0.6v0.6h-0.6zM57.3,286.0h0.6v0.6h-0.6zM43.3,273.9h0.6v0.6h-0.6zM64.4,276.0h0.6v0.6h-0.6zM52.4,283.0h0.6v0.6h-0.6zM74.1,281.1h0.6v0.6h-0.6zM70.3,284.5h0.6v0.6h-0.6zM57.4,286.2h0.6v0.6h-0.6zM48.9,281.9h0.6v0.6h-0.6zM38.5,289.6h0.6v0.6h-0.6zM39.0,278.6h0.6v0.6h-0.6zM50.4,276.7h0.6v0.6h-0.6zM36.1,273.2h0.6v0.6h-0.6zM46.0,287.6h0.6v0.6h-0.6zM42.5,273.9h0.6v0.6h-0.6zM54.2,268.9h0.6v0.6h-0.6zM43.4,283.9h0.6v0.6h-0.6zM46.6,269.0h0.6v0.6h-0.6zM41.1,279.1h0.6v0.6h-0.6zM67.7,278.8h0.6v0.6h-0.6zM52.7,273.3h0.6v0.6h-0.6zM62.0,272.4h0.6v0.6h-0.6zM51.1,277.9h0.6v0.6h-0.6zM71.1,273.3h0.6v0.6h-0.6zM49.2,278.5h0.6v0.6h-0.6zM47.7,268.2h0.6v0.6h-0.6zM52.0,280.6h0.6v0.6h-0.6zM27.5,285.8h0.6v0.6h-0.6zM58.5,274.9h0.6v0.6h-0.6zM60.5,272.4h0.6v0.6h-0.6zM50.1,277.9h0.6v0.6h-0.6zM53.5,289.1h0.6v0.6h-0.6zM59.9,275.7h0.6v0.6h-0.6zM62.3,274.3h0.6v0.6h-0.6zM48.9,270.0h0.6v0.6h-0.6zM57.7,284.2h0.6v0.6h-0.6zM51.3,270.3h0.6v0.6h-0.6zM56.7,282.9h0.6v0.6h-0.6zM66.5,290.9h0.6v0.6h-0.6zM70.4,275.1h0.6v0.6h-0.6zM31.9,274.0h0.6v0.6h-0.6zM30.5,283.6h0.6v0.6h-0.6zM52.1,267.8h0.6v0.6h-0.6zM51.6,285.8h0.6v0.6h-0.6zM47.7,275.2h0.6v0.6h-0.6zM48.3,280.0h0.6v0.6h-0.6zM63.3,267.5h0.6v0.6h-0.6zM39.4,289.2h0.6v0.6h-0.6zM50.8,294.2h0.6v0.6h-0.6zM47.0,264.7h0.6v0.6h-0.6zM40.4,264.7h0.6v0.6h-0.6zM57.7,283.8h0.6v0.6h-0.6zM80.5,289.0h0.6v0.6h-0.6zM45.5,288.0h0.6v0.6h-0.6zM57.2,263.1h0.6v0.6h-0.6zM57.9,290.0h0.6v0.6h-0.6zM35.6,286.9h0.6v0.6h-0.6zM47.6,271.9h0.6v0.6h-0.6zM54.3,295.1h0.6v0.6h-0.6zM51.3,283.7h0.6v0.6h-0.6zM56.5,274.4h0.6v0.6h-0.6zM51.6,266.2h0.6v0.6h-0.6zM54.1,276.5h0.6v0.6h-0.6zM60.1,270.5h0.6v0.6h-0.6zM67.8,258.8h0.6v0.6h-0.6zM58.5,267.0h0.6v0.6h-0.6zM60.8,274.1h0.6v0.6h-0.6zM40.7,288.6h0.6v0.6h-0.6zM68.4,291.6h0.6v0.6h-0.6zM67.8,301.5h0.6v0.6h-0.6zM54.0,263.6h0.6v0.6h-0.6zM51.4,283.7h0.6v0.6h-0.6zM45.5,266.3h0.6v0.6h-0.6zM54.6,266.9h0.6v0.6h-0.6zM55.6,284.9h0.6v0.6h-0.6zM68.4,276.0h0.6v0.6h-0.6zM61.7,268.7h0.6v0.6h-0.6zM47.0,278.8h0.6v0.6h-0.6zM43.2,282.8h0.6v0.6h-0.6zM47.1,289.1h0.6v0.6h-0.6zM33.4,267.9h0.6v0.6h-0.6zM44.9,278.3h0.6v0.6h-0.6zM47.1,268.2h0.6v0.6h-0.6zM51.0,270.0h0.6v0.6h-0.6zM59.3,279.7h0.6v0.6h-0.6zM43.4,275.2h0.6v0.6h-0.6zM46.7,271.8h0.6v0.6h-0.6zM41.6,259.1h0.6v0.6h-0.6zM54.3,274.9h0.6v0.6h-0.6zM64.8,282.4h0.6v0.6h-0.6zM61.2,287.1h0.6v0.6h-0.6zM49.0,273.5h0.6v0.6h-0.6zM43.7,285.8h0.6v0.6h-0.6z" fill="#4646f2" opacity="0.5"/>
<path d="M33,272 C35,262 43,258 51,258.6 C58,259 66,261 71,262.5 C74.5,263.5 74.5,267 72,270 C67,277 60,285 54,289.5 C50,293 46,295.5 42,294.5 C36,293 32.5,285 32.4,278 C32.4,276 32.6,274 33,272 Z" transform="translate(56,276) scale(1.0) translate(-56,-276)" fill="#b4b4fa" stroke="#2a2af0" stroke-width="0.700" opacity="1" />
<path d="M33,272 C35,262 43,258 51,258.6 C58,259 66,261 71,262.5 C74.5,263.5 74.5,267 72,270 C67,277 60,285 54,289.5 C50,293 46,295.5 42,294.5 C36,293 32.5,285 32.4,278 C32.4,276 32.6,274 33,272 Z" transform="translate(55,274.5) scale(0.88) translate(-55,-274.5)" fill="none" stroke="#2a2af0" stroke-width="0.682" opacity="0.9" />
<path d="M33,272 C35,262 43,258 51,258.6 C58,259 66,261 71,262.5 C74.5,263.5 74.5,267 72,270 C67,277 60,285 54,289.5 C50,293 46,295.5 42,294.5 C36,293 32.5,285 32.4,278 C32.4,276 32.6,274 33,272 Z" transform="translate(55,274.5) scale(0.76) translate(-55,-274.5)" fill="none" stroke="#2a2af0" stroke-width="0.789" opacity="0.9" />
<path d="M33,272 C35,262 43,258 51,258.6 C58,259 66,261 71,262.5 C74.5,263.5 74.5,267 72,270 C67,277 60,285 54,289.5 C50,293 46,295.5 42,294.5 C36,293 32.5,285 32.4,278 C32.4,276 32.6,274 33,272 Z" transform="translate(55,274.5) scale(0.64) translate(-55,-274.5)" fill="none" stroke="#2a2af0" stroke-width="0.938" opacity="0.9" />
<path d="M33,272 C35,262 43,258 51,258.6 C58,259 66,261 71,262.5 C74.5,263.5 74.5,267 72,270 C67,277 60,285 54,289.5 C50,293 46,295.5 42,294.5 C36,293 32.5,285 32.4,278 C32.4,276 32.6,274 33,272 Z" transform="translate(55,274.5) scale(0.52) translate(-55,-274.5)" fill="none" stroke="#2a2af0" stroke-width="1.154" opacity="0.9" />
<path d="M37,268 C40,260 47,258.5 53,258.8 C56,259 57,261 57,264 L56.5,290 C53,294 48,295.5 43,294.5 C38,293 35,287 35,280 C35,275 35.5,271 37,268 Z" fill="#1010ee" filter="url(#rough)"/>
<rect x="53.4" y="243.8" width="43.300000000000004" height="53.30000000000001" rx="0.6" fill="none" stroke="#666" stroke-width="0.9"/>
<text x="72.2" y="309.2" font-size="9.0" fill="#333" font-weight="normal" textLength="16.1" lengthAdjust="spacingAndGlyphs" >12.4</text>
<path d="M163.2,281.2h0.6v0.6h-0.6zM149.2,276.0h0.6v0.6h-0.6zM161.1,281.4h0.6v0.6h-0.6zM131.4,290.5h0.6v0.6h-0.6zM153.2,271.3h0.6v0.6h-0.6zM156.1,278.0h0.6v0.6h-0.6zM148.5,261.3h0.6v0.6h-0.6zM156.8,270.8h0.6v0.6h-0.6zM160.0,290.0h0.6v0.6h-0.6zM165.5,281.1h0.6v0.6h-0.6zM148.1,271.3h0.6v0.6h-0.6zM154.3,287.4h0.6v0.6h-0.6zM136.0,284.4h0.6v0.6h-0.6zM159.0,271.2h0.6v0.6h-0.6zM145.9,290.2h0.6v0.6h-0.6zM165.5,266.2h0.6v0.6h-0.6zM161.7,287.7h0.6v0.6h-0.6zM130.9,281.4h0.6v0.6h-0.6zM152.5,280.8h0.6v0.6h-0.6zM155.2,280.8h0.6v0.6h-0.6zM162.9,273.6h0.6v0.6h-0.6zM157.4,292.8h0.6v0.6h-0.6zM162.0,272.8h0.6v0.6h-0.6zM137.8,280.5h0.6v0.6h-0.6zM153.1,286.2h0.6v0.6h-0.6zM163.0,264.8h0.6v0.6h-0.6zM145.9,272.4h0.6v0.6h-0.6zM137.8,258.5h0.6v0.6h-0.6zM146.2,275.2h0.6v0.6h-0.6zM126.5,279.9h0.6v0.6h-0.6zM164.7,277.6h0.6v0.6h-0.6zM160.1,265.1h0.6v0.6h-0.6zM157.2,271.5h0.6v0.6h-0.6zM165.1,281.2h0.6v0.6h-0.6zM155.0,270.2h0.6v0.6h-0.6zM144.1,288.2h0.6v0.6h-0.6zM161.8,271.1h0.6v0.6h-0.6zM164.4,270.3h0.6v0.6h-0.6zM177.1,286.1h0.6v0.6h-0.6zM155.8,267.0h0.6v0.6h-0.6zM149.6,275.1h0.6v0.6h-0.6zM149.8,278.1h0.6v0.6h-0.6zM154.8,280.6h0.6v0.6h-0.6zM164.8,264.4h0.6v0.6h-0.6zM141.4,268.2h0.6v0.6h-0.6zM127.6,286.1h0.6v0.6h-0.6zM163.3,278.8h0.6v0.6h-0.6zM158.8,268.3h0.6v0.6h-0.6zM149.1,273.0h0.6v0.6h-0.6zM154.2,267.7h0.6v0.6h-0.6zM151.8,266.2h0.6v0.6h-0.6zM147.9,278.7h0.6v0.6h-0.6zM139.0,270.1h0.6v0.6h-0.6zM146.4,275.8h0.6v0.6h-0.6zM150.3,279.6h0.6v0.6h-0.6zM166.7,264.5h0.6v0.6h-0.6zM141.2,273.5h0.6v0.6h-0.6zM152.2,283.1h0.6v0.6h-0.6zM149.8,266.1h0.6v0.6h-0.6zM169.7,272.0h0.6v0.6h-0.6zM147.0,290.9h0.6v0.6h-0.6zM159.1,274.2h0.6v0.6h-0.6zM144.4,262.5h0.6v0.6h-0.6zM143.1,273.1h0.6v0.6h-0.6zM137.7,275.6h0.6v0.6h-0.6zM151.0,265.7h0.6v0.6h-0.6zM159.5,260.6h0.6v0.6h-0.6zM141.0,275.3h0.6v0.6h-0.6zM141.5,281.5h0.6v0.6h-0.6zM157.1,275.0h0.6v0.6h-0.6zM160.0,263.6h0.6v0.6h-0.6zM149.5,280.3h0.6v0.6h-0.6zM163.1,271.1h0.6v0.6h-0.6zM134.0,283.3h0.6v0.6h-0.6zM135.8,279.7h0.6v0.6h-0.6zM140.5,268.7h0.6v0.6h-0.6zM163.6,266.2h0.6v0.6h-0.6zM150.1,269.3h0.6v0.6h-0.6zM149.5,276.8h0.6v0.6h-0.6zM178.6,255.9h0.6v0.6h-0.6zM147.3,268.5h0.6v0.6h-0.6zM169.7,291.9h0.6v0.6h-0.6zM151.4,273.1h0.6v0.6h-0.6zM141.1,281.2h0.6v0.6h-0.6zM160.6,257.2h0.6v0.6h-0.6zM150.0,276.7h0.6v0.6h-0.6zM152.4,266.3h0.6v0.6h-0.6zM161.6,268.0h0.6v0.6h-0.6zM152.9,295.0h0.6v0.6h-0.6zM144.4,262.9h0.6v0.6h-0.6zM164.8,284.5h0.6v0.6h-0.6zM175.9,264.0h0.6v0.6h-0.6zM170.5,268.0h0.6v0.6h-0.6zM150.3,277.8h0.6v0.6h-0.6zM149.3,278.4h0.6v0.6h-0.6zM157.8,269.3h0.6v0.6h-0.6zM151.5,276.7h0.6v0.6h-0.6zM137.1,286.9h0.6v0.6h-0.6zM173.5,263.8h0.6v0.6h-0.6zM153.5,275.6h0.6v0.6h-0.6zM152.1,284.8h0.6v0.6h-0.6zM137.3,277.8h0.6v0.6h-0.6zM141.9,281.8h0.6v0.6h-0.6zM166.2,277.3h0.6v0.6h-0.6zM168.3,273.5h0.6v0.6h-0.6zM147.1,269.5h0.6v0.6h-0.6zM138.0,280.7h0.6v0.6h-0.6zM175.7,284.3h0.6v0.6h-0.6zM152.0,277.9h0.6v0.6h-0.6zM147.9,267.9h0.6v0.6h-0.6zM153.0,273.0h0.6v0.6h-0.6zM152.8,279.9h0.6v0.6h-0.6zM166.5,285.4h0.6v0.6h-0.6zM148.3,266.6h0.6v0.6h-0.6zM164.7,260.0h0.6v0.6h-0.6zM167.1,297.5h0.6v0.6h-0.6zM141.5,285.9h0.6v0.6h-0.6zM174.8,263.1h0.6v0.6h-0.6zM154.4,279.8h0.6v0.6h-0.6zM158.3,268.1h0.6v0.6h-0.6zM179.2,290.0h0.6v0.6h-0.6zM141.1,277.6h0.6v0.6h-0.6zM141.5,277.9h0.6v0.6h-0.6zM155.9,278.2h0.6v0.6h-0.6zM156.0,278.4h0.6v0.6h-0.6zM158.7,270.7h0.6v0.6h-0.6zM144.5,289.1h0.6v0.6h-0.6zM168.4,300.1h0.6v0.6h-0.6zM149.6,258.5h0.6v0.6h-0.6zM132.0,273.5h0.6v0.6h-0.6zM157.6,271.0h0.6v0.6h-0.6zM144.4,269.4h0.6v0.6h-0.6zM160.6,272.8h0.6v0.6h-0.6zM148.0,270.6h0.6v0.6h-0.6zM150.1,268.6h0.6v0.6h-0.6zM149.8,284.4h0.6v0.6h-0.6zM122.0,299.8h0.6v0.6h-0.6zM140.9,285.0h0.6v0.6h-0.6zM143.2,287.2h0.6v0.6h-0.6zM126.5,267.1h0.6v0.6h-0.6zM161.6,281.3h0.6v0.6h-0.6zM147.9,260.9h0.6v0.6h-0.6zM150.0,299.3h0.6v0.6h-0.6zM154.1,286.8h0.6v0.6h-0.6zM147.2,261.1h0.6v0.6h-0.6zM175.3,272.4h0.6v0.6h-0.6zM145.6,276.7h0.6v0.6h-0.6zM143.8,276.1h0.6v0.6h-0.6zM149.8,273.2h0.6v0.6h-0.6zM168.5,281.2h0.6v0.6h-0.6zM161.5,276.1h0.6v0.6h-0.6zM145.1,281.7h0.6v0.6h-0.6zM136.3,267.0h0.6v0.6h-0.6zM163.3,275.6h0.6v0.6h-0.6zM169.4,274.8h0.6v0.6h-0.6zM131.9,274.5h0.6v0.6h-0.6zM161.7,268.6h0.6v0.6h-0.6zM146.3,258.9h0.6v0.6h-0.6zM155.8,303.7h0.6v0.6h-0.6zM164.0,285.1h0.6v0.6h-0.6zM156.9,257.0h0.6v0.6h-0.6zM137.0,274.9h0.6v0.6h-0.6zM151.4,284.8h0.6v0.6h-0.6zM155.4,285.8h0.6v0.6h-0.6zM150.3,254.6h0.6v0.6h-0.6zM162.1,283.2h0.6v0.6h-0.6zM159.6,252.4h0.6v0.6h-0.6zM150.7,270.2h0.6v0.6h-0.6zM142.4,275.7h0.6v0.6h-0.6zM145.5,285.3h0.6v0.6h-0.6zM164.7,273.9h0.6v0.6h-0.6zM176.5,277.3h0.6v0.6h-0.6zM142.0,273.2h0.6v0.6h-0.6zM159.3,274.3h0.6v0.6h-0.6zM153.3,274.4h0.6v0.6h-0.6zM151.5,269.8h0.6v0.6h-0.6zM156.2,262.7h0.6v0.6h-0.6zM153.5,276.6h0.6v0.6h-0.6zM135.3,284.2h0.6v0.6h-0.6zM137.4,274.5h0.6v0.6h-0.6zM170.6,285.3h0.6v0.6h-0.6zM141.9,266.8h0.6v0.6h-0.6zM169.0,278.2h0.6v0.6h-0.6zM129.9,269.2h0.6v0.6h-0.6zM137.3,268.5h0.6v0.6h-0.6zM140.8,264.6h0.6v0.6h-0.6zM153.2,259.5h0.6v0.6h-0.6zM132.3,276.2h0.6v0.6h-0.6zM157.9,283.9h0.6v0.6h-0.6zM172.7,285.7h0.6v0.6h-0.6zM151.9,288.3h0.6v0.6h-0.6zM145.3,288.4h0.6v0.6h-0.6zM168.1,278.3h0.6v0.6h-0.6zM171.5,294.9h0.6v0.6h-0.6zM163.7,282.1h0.6v0.6h-0.6zM147.9,287.1h0.6v0.6h-0.6zM141.1,275.3h0.6v0.6h-0.6zM145.4,282.3h0.6v0.6h-0.6zM137.3,293.1h0.6v0.6h-0.6zM135.6,277.9h0.6v0.6h-0.6zM154.1,276.7h0.6v0.6h-0.6zM135.5,271.4h0.6v0.6h-0.6zM148.6,288.9h0.6v0.6h-0.6zM148.2,260.8h0.6v0.6h-0.6zM143.1,282.7h0.6v0.6h-0.6zM147.8,263.1h0.6v0.6h-0.6zM159.1,267.0h0.6v0.6h-0.6zM166.0,283.8h0.6v0.6h-0.6zM158.5,283.1h0.6v0.6h-0.6zM129.9,275.8h0.6v0.6h-0.6zM150.3,300.6h0.6v0.6h-0.6zM151.6,274.9h0.6v0.6h-0.6zM166.1,277.3h0.6v0.6h-0.6zM144.4,289.2h0.6v0.6h-0.6zM158.7,266.7h0.6v0.6h-0.6zM165.2,284.4h0.6v0.6h-0.6zM169.3,289.1h0.6v0.6h-0.6zM155.1,280.7h0.6v0.6h-0.6zM136.2,265.4h0.6v0.6h-0.6zM144.7,272.7h0.6v0.6h-0.6zM157.4,286.3h0.6v0.6h-0.6zM169.5,254.5h0.6v0.6h-0.6zM123.9,277.7h0.6v0.6h-0.6zM146.4,268.4h0.6v0.6h-0.6zM145.6,289.3h0.6v0.6h-0.6zM154.6,266.9h0.6v0.6h-0.6zM135.5,269.5h0.6v0.6h-0.6zM152.0,266.3h0.6v0.6h-0.6zM145.1,282.3h0.6v0.6h-0.6zM176.1,263.9h0.6v0.6h-0.6zM150.6,265.6h0.6v0.6h-0.6zM134.9,291.8h0.6v0.6h-0.6zM146.8,277.1h0.6v0.6h-0.6zM171.3,277.4h0.6v0.6h-0.6zM127.8,281.8h0.6v0.6h-0.6z" fill="#34b834" opacity="0.55"/>
<path d="M134.2,274 C134.2,264 138,259.5 146,259.2 L166,259.2 C171,259.2 173.5,262 171.5,267 C168,273 158,284 150,290.5 C146,293.5 140,293.5 137,291 C134.5,289 134.2,282 134.2,274 Z" transform="translate(155,274) scale(1.0) translate(-155,-274)" fill="#8fd48f" stroke="#34b834" stroke-width="0.600" opacity="1" />
<path d="M134.2,274 C134.2,264 138,259.5 146,259.2 L166,259.2 C171,259.2 173.5,262 171.5,267 C168,273 158,284 150,290.5 C146,293.5 140,293.5 137,291 C134.5,289 134.2,282 134.2,274 Z" transform="translate(160,272) scale(0.9) translate(-160,-272)" fill="none" stroke="#0ca20c" stroke-width="0.556" opacity="0.85" />
<path d="M134.2,274 C134.2,264 138,259.5 146,259.2 L166,259.2 C171,259.2 173.5,262 171.5,267 C168,273 158,284 150,290.5 C146,293.5 140,293.5 137,291 C134.5,289 134.2,282 134.2,274 Z" transform="translate(160,272) scale(0.8) translate(-160,-272)" fill="none" stroke="#0ca20c" stroke-width="0.625" opacity="0.85" />
<path d="M134.2,274 C134.2,264 138,259.5 146,259.2 L166,259.2 C171,259.2 173.5,262 171.5,267 C168,273 158,284 150,290.5 C146,293.5 140,293.5 137,291 C134.5,289 134.2,282 134.2,274 Z" transform="translate(160,272) scale(0.7) translate(-160,-272)" fill="none" stroke="#0ca20c" stroke-width="0.714" opacity="0.85" />
<path d="M134.2,274 C134.2,264 138,259.5 146,259.2 L166,259.2 C171,259.2 173.5,262 171.5,267 C168,273 158,284 150,290.5 C146,293.5 140,293.5 137,291 C134.5,289 134.2,282 134.2,274 Z" transform="translate(160,272) scale(0.6) translate(-160,-272)" fill="none" stroke="#0ca20c" stroke-width="0.833" opacity="0.85" />
<path d="M134.2,274 C134.2,264 138,259.5 146,259.2 L166,259.2 C171,259.2 173.5,262 171.5,267 C168,273 158,284 150,290.5 C146,293.5 140,293.5 137,291 C134.5,289 134.2,282 134.2,274 Z" transform="translate(160,272) scale(0.5) translate(-160,-272)" fill="none" stroke="#0ca20c" stroke-width="1.000" opacity="0.85" />
<path d="M134.2,274 C134.2,264 138,259.5 146,259.2 L166,259.2 C171,259.2 173.5,262 171.5,267 C168,273 158,284 150,290.5 C146,293.5 140,293.5 137,291 C134.5,289 134.2,282 134.2,274 Z" transform="translate(160,272) scale(0.4) translate(-160,-272)" fill="none" stroke="#0ca20c" stroke-width="1.250" opacity="0.85" />
<path d="M134.2,274 C134.2,264 138,259.5 146,259.2 L166,259.2 C171,259.2 173.5,262 171.5,267 C168,273 158,284 150,290.5 C146,293.5 140,293.5 137,291 C134.5,289 134.2,282 134.2,274 Z" transform="translate(160,272) scale(0.3) translate(-160,-272)" fill="none" stroke="#0ca20c" stroke-width="1.667" opacity="0.85" />
<path d="M134.2,274 C134.2,264 138,259.5 146,259.2 L166,259.2 C170,259.5 171,263 168,267 C163,270 153,270.5 148,273 L146.5,292 C143,293.5 139,293 137,291 C134.5,289 134.2,282 134.2,274 Z" fill="#0ca20c" filter="url(#rough)"/>
<rect x="145.2" y="243.5" width="35.5" height="52.69999999999999" rx="0.6" fill="none" stroke="#666" stroke-width="0.9"/>
<text x="154.6" y="309.6" font-size="9.0" fill="#333" font-weight="normal" textLength="16.6" lengthAdjust="spacingAndGlyphs" >46.4</text>
<path d="M59.5,369.8h0.6v0.6h-0.6zM71.9,367.6h0.6v0.6h-0.6zM65.9,366.3h0.6v0.6h-0.6zM67.9,369.6h0.6v0.6h-0.6zM71.5,372.9h0.6v0.6h-0.6zM58.6,373.7h0.6v0.6h-0.6zM75.9,364.6h0.6v0.6h-0.6zM79.3,371.4h0.6v0.6h-0.6zM69.0,366.8h0.6v0.6h-0.6zM59.3,366.8h0.6v0.6h-0.6zM73.8,365.9h0.6v0.6h-0.6zM67.4,385.3h0.6v0.6h-0.6zM60.7,375.5h0.6v0.6h-0.6zM69.6,360.3h0.6v0.6h-0.6zM55.4,371.3h0.6v0.6h-0.6zM71.0,363.4h0.6v0.6h-0.6zM67.2,365.6h0.6v0.6h-0.6zM68.6,371.0h0.6v0.6h-0.6zM63.6,358.3h0.6v0.6h-0.6zM56.1,374.1h0.6v0.6h-0.6zM74.7,382.1h0.6v0.6h-0.6zM71.8,365.9h0.6v0.6h-0.6zM60.3,377.2h0.6v0.6h-0.6zM66.7,380.2h0.6v0.6h-0.6zM68.1,369.0h0.6v0.6h-0.6zM66.5,378.7h0.6v0.6h-0.6zM73.5,372.2h0.6v0.6h-0.6zM74.1,354.1h0.6v0.6h-0.6zM60.8,360.0h0.6v0.6h-0.6zM69.2,372.2h0.6v0.6h-0.6zM58.1,371.1h0.6v0.6h-0.6zM61.7,365.8h0.6v0.6h-0.6zM63.1,368.7h0.6v0.6h-0.6zM58.3,364.0h0.6v0.6h-0.6zM55.8,385.5h0.6v0.6h-0.6zM62.2,361.7h0.6v0.6h-0.6zM73.3,361.6h0.6v0.6h-0.6zM75.7,359.0h0.6v0.6h-0.6zM57.2,372.6h0.6v0.6h-0.6zM59.8,378.0h0.6v0.6h-0.6zM63.2,372.2h0.6v0.6h-0.6zM71.9,369.6h0.6v0.6h-0.6zM59.9,385.4h0.6v0.6h-0.6zM62.3,380.9h0.6v0.6h-0.6zM70.3,376.8h0.6v0.6h-0.6zM55.6,361.2h0.6v0.6h-0.6zM62.6,370.3h0.6v0.6h-0.6zM53.2,370.0h0.6v0.6h-0.6zM66.2,385.9h0.6v0.6h-0.6zM73.8,376.3h0.6v0.6h-0.6zM63.0,375.2h0.6v0.6h-0.6zM65.0,357.3h0.6v0.6h-0.6zM67.5,375.3h0.6v0.6h-0.6zM77.2,366.5h0.6v0.6h-0.6zM54.8,368.8h0.6v0.6h-0.6zM59.5,368.0h0.6v0.6h-0.6zM52.3,358.4h0.6v0.6h-0.6zM76.1,375.2h0.6v0.6h-0.6zM58.3,367.8h0.6v0.6h-0.6zM57.8,376.4h0.6v0.6h-0.6zM58.5,380.8h0.6v0.6h-0.6zM75.1,357.8h0.6v0.6h-0.6zM63.5,369.6h0.6v0.6h-0.6zM72.9,368.7h0.6v0.6h-0.6zM67.6,376.3h0.6v0.6h-0.6zM54.4,373.2h0.6v0.6h-0.6zM61.3,376.5h0.6v0.6h-0.6zM72.2,359.0h0.6v0.6h-0.6zM64.2,374.2h0.6v0.6h-0.6zM58.3,369.6h0.6v0.6h-0.6zM65.3,378.0h0.6v0.6h-0.6zM61.3,377.4h0.6v0.6h-0.6zM76.2,369.0h0.6v0.6h-0.6zM73.8,365.0h0.6v0.6h-0.6zM72.6,369.2h0.6v0.6h-0.6zM65.4,384.2h0.6v0.6h-0.6zM57.4,378.6h0.6v0.6h-0.6zM67.2,370.2h0.6v0.6h-0.6zM57.8,374.7h0.6v0.6h-0.6zM68.8,373.3h0.6v0.6h-0.6zM70.4,363.2h0.6v0.6h-0.6zM65.6,381.7h0.6v0.6h-0.6zM69.4,361.4h0.6v0.6h-0.6zM72.5,376.2h0.6v0.6h-0.6zM68.4,362.3h0.6v0.6h-0.6zM65.8,349.9h0.6v0.6h-0.6zM56.4,370.8h0.6v0.6h-0.6zM64.3,361.9h0.6v0.6h-0.6zM67.0,369.8h0.6v0.6h-0.6zM69.8,367.0h0.6v0.6h-0.6zM72.3,368.3h0.6v0.6h-0.6zM60.7,364.8h0.6v0.6h-0.6zM60.6,367.7h0.6v0.6h-0.6zM64.4,378.5h0.6v0.6h-0.6zM67.4,375.6h0.6v0.6h-0.6zM73.2,371.0h0.6v0.6h-0.6zM71.1,357.0h0.6v0.6h-0.6zM60.6,366.0h0.6v0.6h-0.6zM67.5,365.6h0.6v0.6h-0.6zM68.1,363.4h0.6v0.6h-0.6zM71.3,372.5h0.6v0.6h-0.6zM64.3,365.4h0.6v0.6h-0.6zM62.6,360.7h0.6v0.6h-0.6zM72.1,373.0h0.6v0.6h-0.6zM52.6,363.2h0.6v0.6h-0.6zM74.5,376.0h0.6v0.6h-0.6zM65.8,365.5h0.6v0.6h-0.6zM80.1,367.3h0.6v0.6h-0.6zM77.7,381.5h0.6v0.6h-0.6zM64.6,384.3h0.6v0.6h-0.6zM67.1,369.1h0.6v0.6h-0.6zM68.0,381.6h0.6v0.6h-0.6zM48.6,385.9h0.6v0.6h-0.6zM64.9,369.4h0.6v0.6h-0.6zM60.8,373.4h0.6v0.6h-0.6zM67.6,382.3h0.6v0.6h-0.6zM75.8,367.3h0.6v0.6h-0.6zM71.5,360.9h0.6v0.6h-0.6zM55.1,374.5h0.6v0.6h-0.6zM71.2,356.2h0.6v0.6h-0.6zM61.2,377.0h0.6v0.6h-0.6zM60.5,376.1h0.6v0.6h-0.6zM63.1,369.5h0.6v0.6h-0.6zM49.8,363.8h0.6v0.6h-0.6zM78.7,373.0h0.6v0.6h-0.6zM66.9,374.3h0.6v0.6h-0.6zM81.2,359.9h0.6v0.6h-0.6zM71.1,378.1h0.6v0.6h-0.6zM75.3,369.9h0.6v0.6h-0.6zM63.3,368.3h0.6v0.6h-0.6zM63.5,367.1h0.6v0.6h-0.6zM69.9,360.9h0.6v0.6h-0.6zM66.7,369.6h0.6v0.6h-0.6zM62.0,386.9h0.6v0.6h-0.6zM59.3,368.7h0.6v0.6h-0.6zM77.5,372.7h0.6v0.6h-0.6zM65.8,374.2h0.6v0.6h-0.6zM71.9,370.9h0.6v0.6h-0.6zM61.6,378.8h0.6v0.6h-0.6zM54.9,368.7h0.6v0.6h-0.6zM69.7,374.9h0.6v0.6h-0.6zM64.9,361.5h0.6v0.6h-0.6zM70.1,387.2h0.6v0.6h-0.6zM53.4,360.0h0.6v0.6h-0.6zM67.1,376.8h0.6v0.6h-0.6zM62.8,367.5h0.6v0.6h-0.6zM68.5,367.0h0.6v0.6h-0.6zM71.1,373.9h0.6v0.6h-0.6zM73.5,368.9h0.6v0.6h-0.6zM85.0,362.5h0.6v0.6h-0.6zM70.2,382.9h0.6v0.6h-0.6zM75.0,367.0h0.6v0.6h-0.6zM60.2,368.0h0.6v0.6h-0.6zM71.8,362.1h0.6v0.6h-0.6zM64.6,372.5h0.6v0.6h-0.6zM65.3,369.4h0.6v0.6h-0.6zM62.5,364.0h0.6v0.6h-0.6zM67.1,367.9h0.6v0.6h-0.6zM67.9,374.9h0.6v0.6h-0.6zM64.1,373.5h0.6v0.6h-0.6zM70.0,369.2h0.6v0.6h-0.6zM76.8,380.3h0.6v0.6h-0.6zM70.6,372.3h0.6v0.6h-0.6zM73.5,370.1h0.6v0.6h-0.6zM64.5,364.5h0.6v0.6h-0.6zM64.3,369.6h0.6v0.6h-0.6zM66.4,382.9h0.6v0.6h-0.6zM64.2,362.4h0.6v0.6h-0.6zM66.5,366.1h0.6v0.6h-0.6zM68.6,367.0h0.6v0.6h-0.6zM68.5,378.6h0.6v0.6h-0.6zM56.0,376.6h0.6v0.6h-0.6zM57.4,370.7h0.6v0.6h-0.6zM64.6,375.4h0.6v0.6h-0.6zM66.1,365.4h0.6v0.6h-0.6zM81.1,365.3h0.6v0.6h-0.6zM70.3,368.7h0.6v0.6h-0.6zM62.1,368.4h0.6v0.6h-0.6zM60.8,375.0h0.6v0.6h-0.6zM65.6,372.8h0.6v0.6h-0.6zM69.5,382.7h0.6v0.6h-0.6zM69.3,362.2h0.6v0.6h-0.6zM51.5,367.6h0.6v0.6h-0.6zM58.2,375.7h0.6v0.6h-0.6zM63.9,376.3h0.6v0.6h-0.6zM56.4,374.6h0.6v0.6h-0.6zM59.1,380.6h0.6v0.6h-0.6zM67.3,373.1h0.6v0.6h-0.6zM64.4,376.9h0.6v0.6h-0.6zM72.8,366.5h0.6v0.6h-0.6zM68.7,368.6h0.6v0.6h-0.6zM70.9,370.5h0.6v0.6h-0.6zM61.6,365.8h0.6v0.6h-0.6zM72.7,360.7h0.6v0.6h-0.6zM62.2,365.7h0.6v0.6h-0.6zM67.3,365.7h0.6v0.6h-0.6zM72.9,372.1h0.6v0.6h-0.6zM78.9,375.4h0.6v0.6h-0.6zM69.0,365.1h0.6v0.6h-0.6zM59.6,382.1h0.6v0.6h-0.6zM73.9,367.9h0.6v0.6h-0.6zM64.0,365.8h0.6v0.6h-0.6zM67.4,374.8h0.6v0.6h-0.6zM72.3,368.9h0.6v0.6h-0.6zM56.5,366.3h0.6v0.6h-0.6zM58.9,379.7h0.6v0.6h-0.6zM56.7,375.4h0.6v0.6h-0.6zM61.1,376.2h0.6v0.6h-0.6zM67.6,369.8h0.6v0.6h-0.6zM52.3,373.9h0.6v0.6h-0.6zM71.2,365.8h0.6v0.6h-0.6zM64.2,366.6h0.6v0.6h-0.6zM76.0,364.8h0.6v0.6h-0.6zM63.5,361.3h0.6v0.6h-0.6zM68.8,371.0h0.6v0.6h-0.6zM68.0,345.8h0.6v0.6h-0.6zM64.9,375.3h0.6v0.6h-0.6zM66.4,364.2h0.6v0.6h-0.6zM69.7,381.0h0.6v0.6h-0.6zM64.0,382.0h0.6v0.6h-0.6zM71.9,350.7h0.6v0.6h-0.6zM69.9,372.9h0.6v0.6h-0.6zM71.3,356.6h0.6v0.6h-0.6zM63.2,356.3h0.6v0.6h-0.6zM65.7,373.1h0.6v0.6h-0.6zM78.8,369.5h0.6v0.6h-0.6zM61.0,367.4h0.6v0.6h-0.6zM76.3,359.7h0.6v0.6h-0.6zM77.2,367.5h0.6v0.6h-0.6zM70.0,369.7h0.6v0.6h-0.6zM52.1,372.3h0.6v0.6h-0.6zM56.3,378.5h0.6v0.6h-0.6zM68.6,373.8h0.6v0.6h-0.6zM61.4,351.2h0.6v0.6h-0.6zM60.7,380.8h0.6v0.6h-0.6zM50.1,381.7h0.6v0.6h-0.6zM74.8,361.9h0.6v0.6h-0.6zM64.0,370.6h0.6v0.6h-0.6zM61.3,367.1h0.6v0.6h-0.6z" fill="#4646f2" opacity="0.7"/>
<path d="M59.5,354.5 C76.0,353.5 76.0,388.0 59.5,387.0" fill="none" stroke="#3a3af2" stroke-width="0.5" opacity="0.85"/>
<path d="M59.5,356.1 C73.7,355.1 73.7,386.7 59.5,385.7" fill="none" stroke="#3a3af2" stroke-width="0.5" opacity="0.85"/>
<path d="M59.5,357.7 C71.4,356.7 71.4,385.4 59.5,384.4" fill="none" stroke="#3a3af2" stroke-width="0.5" opacity="0.85"/>
<path d="M59.5,359.3 C69.1,358.3 69.1,384.1 59.5,383.1" fill="none" stroke="#3a3af2" stroke-width="0.5" opacity="0.85"/>
<path d="M59.5,360.9 C66.8,359.9 66.8,382.8 59.5,381.8" fill="none" stroke="#3a3af2" stroke-width="0.5" opacity="0.85"/>
<path d="M59.5,362.5 C64.5,361.5 64.5,381.5 59.5,380.5" fill="none" stroke="#3a3af2" stroke-width="0.5" opacity="0.85"/>
<path d="M59.5,364.1 C62.2,363.1 62.2,380.2 59.5,379.2" fill="none" stroke="#3a3af2" stroke-width="0.5" opacity="0.85"/>
<path d="M48.5,362 C48.5,356 53,353.8 57,354 C59,354.3 60.5,356 61,358 L60.5,388.5 C56,389.6 51,389.5 49.5,386 C48.2,382 48.2,370 48.5,362 Z" fill="#1010ee" filter="url(#rough)"/>
<rect x="59.5" y="339.5" width="28.900000000000006" height="49.0" rx="0.6" fill="none" stroke="#666" stroke-width="0.9"/>
<text x="69.2" y="401.6" font-size="9.0" fill="#333" font-weight="normal" textLength="16.4" lengthAdjust="spacingAndGlyphs" >19.0</text>
<path d="M147.6,371.0h0.6v0.6h-0.6zM139.2,366.8h0.6v0.6h-0.6zM156.4,363.2h0.6v0.6h-0.6zM161.2,385.4h0.6v0.6h-0.6zM149.4,371.9h0.6v0.6h-0.6zM156.3,360.3h0.6v0.6h-0.6zM148.5,382.3h0.6v0.6h-0.6zM154.9,376.4h0.6v0.6h-0.6zM154.7,371.6h0.6v0.6h-0.6zM143.5,371.3h0.6v0.6h-0.6zM136.6,366.2h0.6v0.6h-0.6zM157.5,370.8h0.6v0.6h-0.6zM148.1,362.8h0.6v0.6h-0.6zM150.7,358.8h0.6v0.6h-0.6zM159.3,377.3h0.6v0.6h-0.6zM151.0,377.4h0.6v0.6h-0.6zM149.2,365.8h0.6v0.6h-0.6zM154.5,373.7h0.6v0.6h-0.6zM156.5,374.0h0.6v0.6h-0.6zM154.3,373.6h0.6v0.6h-0.6zM163.9,364.2h0.6v0.6h-0.6zM144.6,378.3h0.6v0.6h-0.6zM153.7,381.2h0.6v0.6h-0.6zM154.6,382.7h0.6v0.6h-0.6zM162.9,376.6h0.6v0.6h-0.6zM141.5,377.6h0.6v0.6h-0.6zM148.5,370.2h0.6v0.6h-0.6zM153.9,375.8h0.6v0.6h-0.6zM139.7,375.2h0.6v0.6h-0.6zM128.1,365.1h0.6v0.6h-0.6zM150.3,373.3h0.6v0.6h-0.6zM149.0,370.0h0.6v0.6h-0.6zM148.4,365.8h0.6v0.6h-0.6zM156.3,372.2h0.6v0.6h-0.6zM158.6,364.1h0.6v0.6h-0.6zM164.8,385.4h0.6v0.6h-0.6zM138.8,371.5h0.6v0.6h-0.6zM158.8,364.9h0.6v0.6h-0.6zM154.2,366.2h0.6v0.6h-0.6zM146.7,360.2h0.6v0.6h-0.6zM153.5,359.1h0.6v0.6h-0.6zM149.1,368.3h0.6v0.6h-0.6zM148.8,371.0h0.6v0.6h-0.6zM150.6,364.7h0.6v0.6h-0.6zM141.5,349.5h0.6v0.6h-0.6zM141.8,372.8h0.6v0.6h-0.6zM154.3,359.4h0.6v0.6h-0.6zM140.3,365.6h0.6v0.6h-0.6zM149.5,370.5h0.6v0.6h-0.6zM141.8,372.8h0.6v0.6h-0.6zM141.3,370.5h0.6v0.6h-0.6zM164.2,367.2h0.6v0.6h-0.6zM147.6,382.4h0.6v0.6h-0.6zM148.5,374.1h0.6v0.6h-0.6zM156.9,389.2h0.6v0.6h-0.6zM162.2,365.7h0.6v0.6h-0.6zM144.1,367.6h0.6v0.6h-0.6zM146.1,377.3h0.6v0.6h-0.6zM155.6,371.8h0.6v0.6h-0.6zM142.0,367.4h0.6v0.6h-0.6zM156.1,379.0h0.6v0.6h-0.6zM156.3,380.7h0.6v0.6h-0.6zM160.0,380.6h0.6v0.6h-0.6zM156.2,362.2h0.6v0.6h-0.6zM159.3,358.5h0.6v0.6h-0.6zM144.6,356.2h0.6v0.6h-0.6zM151.1,374.9h0.6v0.6h-0.6zM163.2,362.0h0.6v0.6h-0.6zM141.6,370.7h0.6v0.6h-0.6zM156.2,380.8h0.6v0.6h-0.6zM162.2,352.3h0.6v0.6h-0.6zM138.2,370.1h0.6v0.6h-0.6zM161.4,366.6h0.6v0.6h-0.6zM156.1,374.7h0.6v0.6h-0.6zM143.7,375.6h0.6v0.6h-0.6zM149.4,376.9h0.6v0.6h-0.6zM143.2,370.3h0.6v0.6h-0.6zM157.1,367.0h0.6v0.6h-0.6zM148.8,367.9h0.6v0.6h-0.6zM152.4,379.2h0.6v0.6h-0.6zM153.7,371.6h0.6v0.6h-0.6zM140.5,372.4h0.6v0.6h-0.6zM147.7,370.9h0.6v0.6h-0.6zM148.2,372.2h0.6v0.6h-0.6zM150.5,368.8h0.6v0.6h-0.6zM154.9,373.2h0.6v0.6h-0.6zM155.3,372.0h0.6v0.6h-0.6zM145.4,374.9h0.6v0.6h-0.6zM150.0,368.0h0.6v0.6h-0.6zM148.7,372.9h0.6v0.6h-0.6zM145.9,366.4h0.6v0.6h-0.6zM144.9,369.5h0.6v0.6h-0.6zM143.6,371.0h0.6v0.6h-0.6zM156.0,359.6h0.6v0.6h-0.6zM152.6,375.4h0.6v0.6h-0.6zM141.4,375.0h0.6v0.6h-0.6zM155.0,376.9h0.6v0.6h-0.6zM138.3,365.5h0.6v0.6h-0.6zM156.2,364.4h0.6v0.6h-0.6zM156.2,367.8h0.6v0.6h-0.6zM148.3,380.4h0.6v0.6h-0.6zM159.6,362.3h0.6v0.6h-0.6zM149.2,379.3h0.6v0.6h-0.6zM166.1,381.3h0.6v0.6h-0.6zM148.0,372.1h0.6v0.6h-0.6zM146.4,378.8h0.6v0.6h-0.6zM156.6,371.3h0.6v0.6h-0.6zM154.2,387.4h0.6v0.6h-0.6zM147.8,379.0h0.6v0.6h-0.6zM154.4,360.2h0.6v0.6h-0.6zM146.5,368.7h0.6v0.6h-0.6zM155.4,366.8h0.6v0.6h-0.6zM154.5,371.6h0.6v0.6h-0.6zM148.2,364.0h0.6v0.6h-0.6zM148.8,382.8h0.6v0.6h-0.6zM158.6,391.8h0.6v0.6h-0.6zM152.7,370.8h0.6v0.6h-0.6zM142.1,364.2h0.6v0.6h-0.6zM161.0,374.0h0.6v0.6h-0.6zM146.1,381.0h0.6v0.6h-0.6zM161.4,380.8h0.6v0.6h-0.6zM146.3,382.3h0.6v0.6h-0.6zM146.6,363.3h0.6v0.6h-0.6zM155.0,373.9h0.6v0.6h-0.6zM146.5,363.6h0.6v0.6h-0.6zM153.3,377.3h0.6v0.6h-0.6zM144.7,354.5h0.6v0.6h-0.6zM153.0,378.7h0.6v0.6h-0.6zM149.3,368.2h0.6v0.6h-0.6zM158.6,358.2h0.6v0.6h-0.6zM157.4,356.3h0.6v0.6h-0.6zM147.3,372.0h0.6v0.6h-0.6zM159.4,361.7h0.6v0.6h-0.6zM143.7,367.9h0.6v0.6h-0.6zM159.7,366.8h0.6v0.6h-0.6zM144.9,379.3h0.6v0.6h-0.6zM151.5,376.3h0.6v0.6h-0.6zM153.0,379.8h0.6v0.6h-0.6zM145.4,350.9h0.6v0.6h-0.6zM146.5,370.7h0.6v0.6h-0.6zM156.2,370.3h0.6v0.6h-0.6zM154.0,371.8h0.6v0.6h-0.6zM143.7,382.3h0.6v0.6h-0.6zM148.1,360.7h0.6v0.6h-0.6zM148.7,379.1h0.6v0.6h-0.6zM150.5,355.7h0.6v0.6h-0.6zM157.0,383.3h0.6v0.6h-0.6zM140.0,362.5h0.6v0.6h-0.6zM161.0,372.1h0.6v0.6h-0.6zM142.1,375.7h0.6v0.6h-0.6zM161.3,373.2h0.6v0.6h-0.6zM145.1,372.3h0.6v0.6h-0.6zM159.4,375.0h0.6v0.6h-0.6zM140.8,366.7h0.6v0.6h-0.6zM154.7,378.8h0.6v0.6h-0.6zM142.9,372.1h0.6v0.6h-0.6zM148.6,366.6h0.6v0.6h-0.6zM147.7,369.7h0.6v0.6h-0.6zM152.5,357.1h0.6v0.6h-0.6zM150.8,353.2h0.6v0.6h-0.6zM151.0,372.7h0.6v0.6h-0.6zM147.1,368.0h0.6v0.6h-0.6zM151.5,379.2h0.6v0.6h-0.6zM154.9,375.0h0.6v0.6h-0.6zM150.0,363.0h0.6v0.6h-0.6zM152.8,366.7h0.6v0.6h-0.6zM151.3,361.4h0.6v0.6h-0.6zM154.8,389.6h0.6v0.6h-0.6zM153.7,376.0h0.6v0.6h-0.6zM155.3,362.1h0.6v0.6h-0.6zM151.4,370.9h0.6v0.6h-0.6zM152.7,383.6h0.6v0.6h-0.6zM151.3,385.4h0.6v0.6h-0.6zM148.5,371.0h0.6v0.6h-0.6zM146.4,370.4h0.6v0.6h-0.6zM149.5,373.1h0.6v0.6h-0.6zM153.6,371.0h0.6v0.6h-0.6zM151.2,374.1h0.6v0.6h-0.6zM141.0,371.0h0.6v0.6h-0.6zM153.0,365.0h0.6v0.6h-0.6zM144.0,375.8h0.6v0.6h-0.6zM145.4,379.0h0.6v0.6h-0.6zM158.1,376.4h0.6v0.6h-0.6zM155.5,357.2h0.6v0.6h-0.6zM150.6,371.9h0.6v0.6h-0.6zM156.1,360.5h0.6v0.6h-0.6zM155.9,375.7h0.6v0.6h-0.6zM154.2,385.3h0.6v0.6h-0.6zM147.6,382.7h0.6v0.6h-0.6zM148.0,377.4h0.6v0.6h-0.6zM138.6,370.5h0.6v0.6h-0.6zM144.8,352.6h0.6v0.6h-0.6zM157.0,381.3h0.6v0.6h-0.6zM164.8,379.8h0.6v0.6h-0.6zM144.1,379.4h0.6v0.6h-0.6zM162.9,373.7h0.6v0.6h-0.6zM152.3,376.8h0.6v0.6h-0.6zM158.8,360.7h0.6v0.6h-0.6zM149.9,367.1h0.6v0.6h-0.6zM154.0,374.6h0.6v0.6h-0.6zM147.9,373.1h0.6v0.6h-0.6zM136.5,376.8h0.6v0.6h-0.6zM139.9,353.6h0.6v0.6h-0.6zM169.3,360.7h0.6v0.6h-0.6zM135.5,374.9h0.6v0.6h-0.6zM143.9,358.5h0.6v0.6h-0.6zM151.3,366.5h0.6v0.6h-0.6zM154.6,351.0h0.6v0.6h-0.6zM148.6,368.4h0.6v0.6h-0.6zM146.3,360.2h0.6v0.6h-0.6zM155.0,375.2h0.6v0.6h-0.6zM143.4,386.2h0.6v0.6h-0.6zM165.5,370.9h0.6v0.6h-0.6zM156.9,357.3h0.6v0.6h-0.6zM152.4,371.5h0.6v0.6h-0.6zM161.2,373.3h0.6v0.6h-0.6zM149.9,375.5h0.6v0.6h-0.6zM159.0,376.2h0.6v0.6h-0.6zM156.2,356.5h0.6v0.6h-0.6zM140.1,370.3h0.6v0.6h-0.6zM143.5,367.1h0.6v0.6h-0.6zM150.2,373.2h0.6v0.6h-0.6zM145.4,373.2h0.6v0.6h-0.6zM152.9,371.3h0.6v0.6h-0.6zM149.5,379.1h0.6v0.6h-0.6zM156.8,385.1h0.6v0.6h-0.6zM151.6,364.4h0.6v0.6h-0.6zM151.1,366.3h0.6v0.6h-0.6zM144.7,368.8h0.6v0.6h-0.6zM156.8,377.4h0.6v0.6h-0.6z" fill="#34b834" opacity="0.7"/>
<path d="M143.5,354.5 C160.0,353.5 160.0,387.5 143.5,386.5" fill="none" stroke="#22aa22" stroke-width="0.55" opacity="0.85"/>
<path d="M143.5,356.0 C158.0,355.0 158.0,386.3 143.5,385.3" fill="none" stroke="#22aa22" stroke-width="0.55" opacity="0.85"/>
<path d="M143.5,357.5 C156.0,356.5 156.0,385.1 143.5,384.1" fill="none" stroke="#22aa22" stroke-width="0.55" opacity="0.85"/>
<path d="M143.5,359.0 C154.0,358.0 154.0,383.9 143.5,382.9" fill="none" stroke="#22aa22" stroke-width="0.55" opacity="0.85"/>
<path d="M143.5,360.5 C152.0,359.5 152.0,382.7 143.5,381.7" fill="none" stroke="#22aa22" stroke-width="0.55" opacity="0.85"/>
<path d="M143.5,362.0 C150.0,361.0 150.0,381.5 143.5,380.5" fill="none" stroke="#22aa22" stroke-width="0.55" opacity="0.85"/>
<path d="M143.5,363.5 C148.0,362.5 148.0,380.3 143.5,379.3" fill="none" stroke="#22aa22" stroke-width="0.55" opacity="0.85"/>
<path d="M143.5,365.0 C146.0,364.0 146.0,379.1 143.5,378.1" fill="none" stroke="#22aa22" stroke-width="0.55" opacity="0.85"/>
<path d="M149,358 C155,358 158,366 157,372 C156,380 152,384 144,385 Z" fill="#34b834" opacity="0.55"/>
<path d="M133,361 C133,355 137,353 141,353 C143,353.3 144.5,355 145,357 L144,387.6 C140,388.5 135,388.5 134,385 C133,381 133,370 133,361 Z" fill="#0ca20c" filter="url(#rough)"/>
<rect x="142.3" y="339.2" width="29.399999999999977" height="49.30000000000001" rx="0.6" fill="none" stroke="#666" stroke-width="0.9"/>
<text x="163.2" y="401.6" font-size="9.0" fill="#333" font-weight="normal" textLength="15.8" lengthAdjust="spacingAndGlyphs" >34.4</text>
<line x1="13.2" y1="380.3" x2="13.2" y2="248" stroke="#111" stroke-width="1.4" />
<path d="M13.2,240.5 L9.6,250 L16.8,250 Z" fill="#111"/>
<text transform="translate(16.8,396.54999999999995) rotate(-90)" x="0" y="0" font-size="11.5" fill="#222" text-anchor="middle" textLength="21.7" lengthAdjust="spacingAndGlyphs">CD56</text>
<text x="24.8" y="328" font-size="9.4" fill="#222" font-weight="normal" textLength="21.6" lengthAdjust="spacingAndGlyphs" >IFN-&#947;</text>
<line x1="49.8" y1="325.1" x2="179" y2="325.1" stroke="#111" stroke-width="1.4" />
<path d="M188,325.1 L178.4,321.1 L178.4,329.1 Z" fill="#111"/>
<text x="24.8" y="423" font-size="12" fill="#222" font-weight="normal" textLength="31.2" lengthAdjust="spacingAndGlyphs" >CD107a</text>
<line x1="61.8" y1="419.6" x2="176" y2="419.6" stroke="#111" stroke-width="1.4" />
<path d="M185,419.6 L175.4,415.6 L175.4,423.6 Z" fill="#111"/>
</svg></body></html>
